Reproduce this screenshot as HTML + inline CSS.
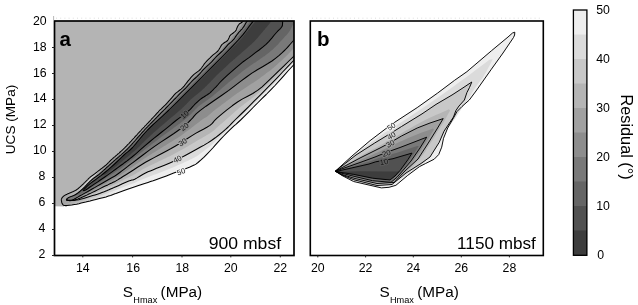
<!DOCTYPE html>
<html lang="en">
<head>
<meta charset="utf-8">
<title>Residual contour plots: UCS versus SHmax</title>
<style>
html,body{margin:0;padding:0;background:#fff;}
body{width:638px;height:305px;overflow:hidden;}
svg{display:block;}
</style>
</head>
<body>
<svg width="638" height="305" viewBox="0 0 638 305" font-family='"Liberation Sans", sans-serif' fill="#000">
<rect width="638" height="305" fill="#fff"/>
<defs>
<linearGradient id="g50" gradientUnits="userSpaceOnUse" x1="64" y1="0" x2="118" y2="0"><stop offset="0" stop-color="#a4a4a4"/><stop offset="0.5" stop-color="#d2d2d2"/><stop offset="1" stop-color="#eeeeee"/></linearGradient>
<linearGradient id="g45" gradientUnits="userSpaceOnUse" x1="64" y1="0" x2="118" y2="0"><stop offset="0" stop-color="#9e9e9e"/><stop offset="0.5" stop-color="#c4c4c4"/><stop offset="1" stop-color="#dbdbdb"/></linearGradient>
<clipPath id="cl"><rect x="54" y="21" width="240" height="234.5"/></clipPath>
<clipPath id="cr"><rect x="310.3" y="21" width="233" height="234.5"/></clipPath>
</defs>
<g clip-path="url(#cl)">
<path d="M54 16 L264 16 L267 -9 L266.5 -8.4 L265.9 -7.6 L265.1 -6.6 L264.2 -5.6 L263.3 -4.5 L262.4 -3.4 L261.3 -2.1 L260.3 -0.8 L259.2 0.5 L258 1.9 L256.8 3.4 L255.7 4.8 L254.5 6.3 L253.3 7.8 L252 9.3 L250.8 10.7 L249.5 12 L248.2 13.3 L247 14.6 L245.9 15.9 L245 17.3 L244.3 18.8 L243.6 20.2 L242.8 21.4 L241.9 22.3 L240.9 23 L239.9 23.5 L239.1 24.2 L238.5 25 L238 25.8 L237.6 26.6 L237.2 27.4 L236.8 28.3 L236.5 29.1 L236.2 29.9 L235.8 30.7 L235.2 31.3 L234.6 31.8 L233.9 32.4 L233.2 33 L232.5 33.5 L231.7 34.1 L230.9 34.7 L230.1 35.6 L229.5 36.6 L229 37.9 L228.4 39.3 L227.6 40.5 L226.4 41.5 L225 42.3 L223.5 43.3 L222.1 44.4 L221 45.9 L220.1 47.6 L219.1 49.3 L217.9 51 L216.4 52.4 L214.8 53.6 L213.1 54.9 L211.5 56.3 L210 57.8 L208.4 59.3 L206.9 60.8 L205.5 62.5 L204.1 64.2 L202.9 66 L201.6 67.8 L200.3 69.5 L198.7 70.9 L197 72.1 L195.3 73.4 L193.7 74.7 L192.2 76.2 L190.8 77.7 L189.5 79.3 L188.1 80.9 L186.8 82.6 L185.5 84.3 L184.1 86.1 L182.7 87.7 L181.1 89.1 L179.3 90.5 L177.6 91.8 L175.9 93.1 L174.4 94.7 L173 96.3 L171.7 97.9 L170.4 99.4 L169 100.9 L167.7 102.4 L166.4 103.8 L165.1 105.2 L163.8 106.4 L162.5 107.6 L161.3 108.8 L160.1 109.9 L159 111 L158.1 112.1 L157.1 113.2 L156.2 114.2 L155.3 115.2 L154.4 116.1 L153.5 117 L152.7 117.9 L151.9 118.7 L151.2 119.5 L150.4 120.3 L149.7 121.1 L149 121.8 L148.3 122.6 L147.6 123.3 L146.9 124 L146.2 124.8 L145.5 125.5 L144.8 126.2 L144.2 127 L143.5 127.7 L142.7 128.5 L142 129.2 L141.3 130 L140.6 130.8 L139.8 131.6 L139.1 132.4 L138.3 133.2 L137.6 134 L136.9 134.8 L136.1 135.6 L135.4 136.4 L134.7 137.2 L134 138 L133.2 138.8 L132.5 139.5 L131.8 140.3 L131.1 141.1 L130.4 141.8 L129.7 142.6 L129.1 143.3 L128.4 144 L127.7 144.7 L127 145.4 L126.4 146.1 L125.8 146.7 L125.1 147.4 L124.5 148 L123.9 148.6 L123.3 149.2 L122.6 149.8 L122 150.4 L121.4 150.9 L120.8 151.5 L120.2 152 L119.6 152.5 L119.1 153.1 L118.5 153.6 L117.9 154 L117.3 154.5 L116.8 155 L116.3 155.5 L115.7 155.9 L115.2 156.4 L114.7 156.8 L114.2 157.2 L113.7 157.6 L113.3 158 L112.8 158.4 L112.4 158.8 L112 159.1 L111.6 159.5 L111.2 159.8 L110.9 160.2 L110.6 160.5 L110.2 160.8 L110 161.1 L109.7 161.3 L109.4 161.6 L109.2 161.8 L109 162 L108.8 162.3 L108.6 162.5 L108.4 162.7 L108.2 162.9 L108 163.1 L107.8 163.3 L107.6 163.4 L107.4 163.6 L107.3 163.8 L107.1 164 L106.9 164.2 L106.7 164.4 L106.5 164.6 L106.2 164.8 L106 165 L105.8 165.2 L105.5 165.4 L105.3 165.6 L105 165.8 L104.8 166 L104.5 166.2 L104.3 166.4 L104 166.6 L103.8 166.8 L103.5 167 L103.2 167.2 L103 167.4 L102.7 167.6 L102.5 167.8 L102.2 168 L102 168.2 L101.7 168.4 L101.5 168.6 L101.2 168.8 L101 168.9 L100.7 169.1 L100.5 169.3 L100.2 169.5 L100 169.7 L99.8 169.9 L99.5 170.1 L99.3 170.3 L99 170.5 L98.8 170.6 L98.6 170.8 L98.3 171 L98.1 171.2 L97.9 171.4 L97.6 171.6 L97.4 171.8 L97.2 171.9 L96.9 172.1 L96.7 172.3 L96.5 172.5 L96.2 172.7 L96 172.8 L95.8 173 L95.6 173.2 L95.4 173.3 L95.1 173.5 L94.9 173.7 L94.7 173.8 L94.5 174 L94.3 174.2 L94.1 174.3 L93.9 174.5 L93.7 174.6 L93.5 174.7 L93.3 174.9 L93.1 175 L92.9 175.2 L92.7 175.3 L92.5 175.4 L92.3 175.6 L92.1 175.7 L92 175.8 L91.8 175.9 L91.6 176.1 L91.4 176.2 L91.2 176.3 L91 176.5 L90.9 176.6 L90.7 176.7 L90.5 176.9 L90.3 177 L90.2 177.2 L90 177.3 L89.8 177.4 L89.7 177.6 L89.5 177.7 L89.4 177.9 L89.2 178 L89.1 178.1 L88.9 178.3 L88.8 178.4 L88.7 178.6 L88.5 178.7 L88.4 178.8 L88.3 179 L88.1 179.1 L88 179.3 L87.8 179.4 L87.7 179.6 L87.5 179.7 L87.4 179.9 L87.2 180.1 L87.1 180.2 L86.9 180.4 L86.7 180.6 L86.5 180.8 L86.3 181 L86.1 181.2 L85.9 181.4 L85.6 181.7 L85.4 181.9 L85.1 182.1 L84.9 182.4 L84.6 182.7 L84.3 182.9 L84 183.2 L83.8 183.5 L83.5 183.8 L83.2 184 L82.9 184.3 L82.6 184.6 L82.3 184.8 L82 185.1 L81.8 185.4 L81.5 185.6 L81.2 185.9 L81 186.1 L80.7 186.4 L80.5 186.6 L80.2 186.8 L80 187 L79.8 187.2 L79.6 187.4 L79.4 187.5 L79.2 187.7 L79 187.9 L78.8 188 L78.6 188.2 L78.4 188.3 L78.3 188.5 L78.1 188.6 L77.9 188.8 L77.8 188.9 L77.6 189 L77.4 189.1 L77.3 189.3 L77.1 189.4 L76.9 189.5 L76.8 189.6 L76.6 189.7 L76.4 189.8 L76.3 190 L76.1 190.1 L75.9 190.2 L75.7 190.3 L75.5 190.4 L75.3 190.5 L75.1 190.6 L74.9 190.7 L74.7 190.8 L74.5 190.9 L74.3 191 L74.1 191.1 L73.9 191.2 L73.7 191.3 L73.5 191.4 L73.3 191.5 L73.1 191.6 L72.9 191.7 L72.6 191.8 L72.4 191.9 L72.2 191.9 L72 192 L71.8 192.1 L71.6 192.2 L71.4 192.3 L71.1 192.4 L70.9 192.5 L70.7 192.6 L70.5 192.7 L70.2 192.8 L70 192.9 L69.8 193 L69.5 193.1 L69.3 193.2 L69.1 193.3 L68.8 193.4 L68.6 193.5 L68.3 193.6 L68.1 193.7 L67.8 193.8 L67.6 193.9 L67.3 194.1 L67.1 194.2 L66.9 194.3 L66.6 194.4 L66.4 194.5 L66.2 194.6 L66 194.7 L65.8 194.8 L65.6 194.9 L65.4 195 L65.2 195.1 L65 195.2 L64.9 195.3 L64.7 195.4 L64.5 195.5 L64.4 195.6 L64.2 195.7 L64.1 195.8 L64 195.9 L63.8 196 L63.7 196.1 L63.6 196.2 L63.5 196.3 L63.4 196.4 L63.2 196.5 L63.1 196.6 L63 196.7 L62.9 196.8 L62.8 196.9 L62.7 197 L62.6 197.1 L62.6 197.2 L62.5 197.3 L62.4 197.4 L62.3 197.5 L62.2 197.6 L62.1 197.7 L62.1 197.8 L62 197.9 L62 198 L61.9 198.1 L61.8 198.2 L61.8 198.3 L61.7 198.4 L61.7 198.5 L61.7 198.6 L61.6 198.7 L61.6 198.9 L61.5 198.9 L61.5 199 L61.5 199.1 L61.5 199.2 L61.4 199.3 L61.4 199.4 L61.4 199.5 L61.4 199.5 L61.3 199.6 L61.3 199.7 L61.3 199.7 L62.2 203.6 L65 205.6 L64 206.4 L54 206.3Z" fill="#b4b4b4"/>
<path d="M61.3 199.7 L61.3 199.7 L61.3 199.6 L61.4 199.5 L61.4 199.5 L61.4 199.4 L61.4 199.3 L61.5 199.2 L61.5 199.1 L61.5 199 L61.5 198.9 L61.6 198.9 L61.6 198.7 L61.7 198.6 L61.7 198.5 L61.7 198.4 L61.8 198.3 L61.8 198.2 L61.9 198.1 L62 198 L62 197.9 L62.1 197.8 L62.1 197.7 L62.2 197.6 L62.3 197.5 L62.4 197.4 L62.5 197.3 L62.6 197.2 L62.6 197.1 L62.7 197 L62.8 196.9 L62.9 196.8 L63 196.7 L63.1 196.6 L63.2 196.5 L63.4 196.4 L63.5 196.3 L63.6 196.2 L63.7 196.1 L63.8 196 L64 195.9 L64.1 195.8 L64.2 195.7 L64.4 195.6 L64.5 195.5 L64.7 195.4 L64.9 195.3 L65 195.2 L65.2 195.1 L65.4 195 L65.6 194.9 L65.8 194.8 L66 194.7 L66.2 194.6 L66.4 194.5 L66.6 194.4 L66.9 194.3 L67.1 194.2 L67.3 194.1 L67.6 193.9 L67.8 193.8 L68.1 193.7 L68.3 193.6 L68.6 193.5 L68.8 193.4 L69.1 193.3 L69.3 193.2 L69.5 193.1 L69.8 193 L70 192.9 L70.2 192.8 L70.5 192.7 L70.7 192.6 L70.9 192.5 L71.1 192.4 L71.4 192.3 L71.6 192.2 L71.8 192.1 L72 192 L72.2 191.9 L72.4 191.9 L72.6 191.8 L72.9 191.7 L73.1 191.6 L73.3 191.5 L73.5 191.4 L73.7 191.3 L73.9 191.2 L74.1 191.1 L74.3 191 L74.5 190.9 L74.7 190.8 L74.9 190.7 L75.1 190.6 L75.3 190.5 L75.5 190.4 L75.7 190.3 L75.9 190.2 L76.1 190.1 L76.3 190 L76.4 189.8 L76.6 189.7 L76.8 189.6 L76.9 189.5 L77.1 189.4 L77.3 189.3 L77.4 189.1 L77.6 189 L77.8 188.9 L77.9 188.8 L78.1 188.6 L78.3 188.5 L78.4 188.3 L78.6 188.2 L78.8 188 L79 187.9 L79.2 187.7 L79.4 187.5 L79.6 187.4 L79.8 187.2 L80 187 L80.2 186.8 L80.5 186.6 L80.7 186.4 L81 186.1 L81.2 185.9 L81.5 185.6 L81.8 185.4 L82 185.1 L82.3 184.8 L82.6 184.6 L82.9 184.3 L83.2 184 L83.5 183.8 L83.8 183.5 L84 183.2 L84.3 182.9 L84.6 182.7 L84.9 182.4 L85.1 182.1 L85.4 181.9 L85.6 181.7 L85.9 181.4 L86.1 181.2 L86.3 181 L86.5 180.8 L86.7 180.6 L86.9 180.4 L87.1 180.2 L87.2 180.1 L87.4 179.9 L87.5 179.7 L87.7 179.6 L87.8 179.4 L88 179.3 L88.1 179.1 L88.3 179 L88.4 178.8 L88.5 178.7 L88.7 178.6 L88.8 178.4 L88.9 178.3 L89.1 178.1 L89.2 178 L89.4 177.9 L89.5 177.7 L89.7 177.6 L89.8 177.4 L90 177.3 L90.2 177.2 L90.3 177 L90.5 176.9 L90.7 176.7 L90.9 176.6 L91 176.5 L91.2 176.3 L91.4 176.2 L91.6 176.1 L91.8 175.9 L92 175.8 L92.1 175.7 L92.3 175.6 L92.5 175.4 L92.7 175.3 L92.9 175.2 L93.1 175 L93.3 174.9 L93.5 174.7 L93.7 174.6 L93.9 174.5 L94.1 174.3 L94.3 174.2 L94.5 174 L94.7 173.8 L94.9 173.7 L95.1 173.5 L95.4 173.3 L95.6 173.2 L95.8 173 L96 172.8 L96.2 172.7 L96.5 172.5 L96.7 172.3 L96.9 172.1 L97.2 171.9 L97.4 171.8 L97.6 171.6 L97.9 171.4 L98.1 171.2 L98.3 171 L98.6 170.8 L98.8 170.6 L99 170.5 L99.3 170.3 L99.5 170.1 L99.8 169.9 L100 169.7 L100.2 169.5 L100.5 169.3 L100.7 169.1 L101 168.9 L101.2 168.8 L101.5 168.6 L101.7 168.4 L102 168.2 L102.2 168 L102.5 167.8 L102.7 167.6 L103 167.4 L103.2 167.2 L103.5 167 L103.8 166.8 L104 166.6 L104.3 166.4 L104.5 166.2 L104.8 166 L105 165.8 L105.3 165.6 L105.5 165.4 L105.8 165.2 L106 165 L106.2 164.8 L106.5 164.6 L106.7 164.4 L106.9 164.2 L107.1 164 L107.3 163.8 L107.4 163.6 L107.6 163.4 L107.8 163.3 L108 163.1 L108.2 162.9 L108.4 162.7 L108.6 162.5 L108.8 162.3 L109 162 L109.2 161.8 L109.4 161.6 L109.7 161.3 L110 161.1 L110.2 160.8 L110.6 160.5 L110.9 160.2 L111.2 159.8 L111.6 159.5 L112 159.1 L112.4 158.8 L112.8 158.4 L113.3 158 L113.7 157.6 L114.2 157.2 L114.7 156.8 L115.2 156.4 L115.7 155.9 L116.3 155.5 L116.8 155 L117.3 154.5 L117.9 154 L118.5 153.6 L119.1 153.1 L119.6 152.5 L120.2 152 L120.8 151.5 L121.4 150.9 L122 150.4 L122.6 149.8 L123.3 149.2 L123.9 148.6 L124.5 148 L125.1 147.4 L125.8 146.7 L126.4 146.1 L127 145.4 L127.7 144.7 L128.4 144 L129.1 143.3 L129.7 142.6 L130.4 141.8 L131.1 141.1 L131.8 140.3 L132.5 139.5 L133.2 138.8 L134 138 L134.7 137.2 L135.4 136.4 L136.1 135.6 L136.9 134.8 L137.6 134 L138.3 133.2 L139.1 132.4 L139.8 131.6 L140.6 130.8 L141.3 130 L142 129.2 L142.7 128.5 L143.5 127.7 L144.2 127 L144.8 126.2 L145.5 125.5 L146.2 124.8 L146.9 124 L147.6 123.3 L148.3 122.6 L149 121.8 L149.7 121.1 L150.4 120.3 L151.2 119.5 L151.9 118.7 L152.7 117.9 L153.5 117 L154.4 116.1 L155.3 115.2 L156.2 114.2 L157.1 113.2 L158.1 112.1 L159 111 L160.1 109.9 L161.3 108.8 L162.5 107.6 L163.8 106.4 L165.1 105.2 L166.4 103.8 L167.7 102.4 L169 100.9 L170.4 99.4 L171.7 97.9 L173 96.3 L174.4 94.7 L175.9 93.1 L177.6 91.8 L179.3 90.5 L181.1 89.1 L182.7 87.7 L184.1 86.1 L185.5 84.3 L186.8 82.6 L188.1 80.9 L189.5 79.3 L190.8 77.7 L192.2 76.2 L193.7 74.7 L195.3 73.4 L197 72.1 L198.7 70.9 L200.3 69.5 L201.6 67.8 L202.9 66 L204.1 64.2 L205.5 62.5 L206.9 60.8 L208.4 59.3 L210 57.8 L211.5 56.3 L213.1 54.9 L214.8 53.6 L216.4 52.4 L217.9 51 L219.1 49.3 L220.1 47.6 L221 45.9 L222.1 44.4 L223.5 43.3 L225 42.3 L226.4 41.5 L227.6 40.5 L228.4 39.3 L229 37.9 L229.5 36.6 L230.1 35.6 L230.9 34.7 L231.7 34.1 L232.5 33.5 L233.2 33 L233.9 32.4 L234.6 31.8 L235.2 31.3 L235.8 30.7 L236.2 29.9 L236.5 29.1 L236.8 28.3 L237.2 27.4 L237.6 26.6 L238 25.8 L238.5 25 L239.1 24.2 L239.9 23.5 L240.9 23 L241.9 22.3 L242.8 21.4 L243.6 20.2 L244.3 18.8 L245 17.3 L245.9 15.9 L247 14.6 L248.2 13.3 L249.5 12 L250.8 10.7 L252 9.3 L253.3 7.8 L254.5 6.3 L255.7 4.8 L256.8 3.4 L258 1.9 L259.2 0.5 L260.3 -0.8 L261.3 -2.1 L262.4 -3.4 L263.3 -4.5 L264.2 -5.6 L265.1 -6.6 L265.9 -7.6 L266.5 -8.4 L267 -9 L330 -20 L324 34.5 L318.4 40.1 L310.2 48.2 L301.4 56.9 L294 64.5 L288.4 70.5 L283.7 75.8 L279.4 80.7 L275 85.5 L270.5 90.1 L266.2 94.5 L261.9 98.7 L257.6 103 L253.1 107.5 L248.6 112.1 L244.3 116.4 L240.6 120 L237.9 122.5 L235.9 124.3 L234 125.9 L231.9 127.9 L229.3 130.4 L226.5 133.1 L223.7 136 L220.9 138.9 L218.2 141.9 L215.5 144.9 L212.8 148 L210 151 L207 154.1 L203.8 157.3 L200.7 160.2 L198 162.5 L195.9 164.1 L194.2 165.1 L192.6 165.8 L191 166.5 L189.4 167.2 L187.9 167.8 L186.2 168.4 L184 169.2 L181 170.3 L177.4 171.7 L173.7 173.1 L170 174.5 L166.4 175.9 L162.8 177.3 L159.3 178.6 L156 179.8 L153.1 180.8 L150.5 181.6 L148 182.4 L145.5 183.2 L143.1 184 L140.9 184.7 L138.5 185.5 L135.7 186.5 L132 187.8 L127.6 189.3 L123.4 190.8 L120 192 L117.9 192.7 L116.7 193.2 L115.7 193.6 L114.3 194.1 L112.5 194.7 L110.6 195.4 L108.5 196.1 L106 196.9 L102.9 197.7 L99.4 198.6 L95.9 199.5 L92.7 200.3 L90.1 201 L87.8 201.5 L85.7 202.1 L83.5 202.6 L81.2 203.1 L78.9 203.7 L76.6 204.2 L74.3 204.6 L71.8 205 L69.3 205.3 L66.9 205.6 L65 205.6 L63.8 205.4 L63.1 204.9 L62.6 204.3 L62.2 203.6 L61.8 202.7 L61.6 201.5 L61.4 200.4 L61.3 199.7Z" fill="url(#g50)"/>
<path d="M66.1 199.7 L66.8 199.2 L67.8 198.4 L68.9 197.6 L70.1 196.9 L71.2 196.4 L72.3 196 L73.5 195.6 L74.6 195.1 L75.7 194.5 L76.7 193.8 L77.7 193.1 L78.7 192.3 L79.6 191.6 L80.6 190.8 L81.5 190 L82.4 189.2 L83.2 188.3 L84 187.4 L84.8 186.6 L85.6 185.7 L86.3 184.8 L87.1 183.9 L87.8 183.1 L88.6 182.2 L89.3 181.4 L90 180.5 L90.8 179.7 L91.5 178.9 L92.3 178.2 L93.1 177.4 L93.9 176.7 L94.7 175.9 L95.5 175.2 L96.3 174.5 L97 173.7 L97.8 173 L98.6 172.2 L99.4 171.4 L100.1 170.6 L100.9 169.9 L101.7 169.1 L102.6 168.4 L103.4 167.6 L104.2 166.9 L105 166.1 L105.9 165.3 L106.7 164.5 L107.5 163.7 L108.4 162.8 L109.2 162 L110 161.1 L110.8 160.2 L111.7 159.4 L112.7 158.6 L113.6 157.8 L114.5 156.9 L115.5 156.1 L116.4 155.3 L117.3 154.5 L118.3 153.7 L119.2 152.9 L120.1 152.1 L121 151.3 L121.9 150.5 L122.8 149.6 L123.7 148.7 L124.6 147.9 L125.5 147 L126.3 146.1 L127.2 145.2 L128 144.3 L128.9 143.5 L129.7 142.6 L130.6 141.6 L131.4 140.7 L132.2 139.8 L133.1 138.9 L133.9 138 L134.7 137.1 L135.6 136.2 L136.4 135.3 L137.2 134.4 L138.1 133.5 L138.9 132.6 L139.7 131.7 L140.6 130.8 L141.4 129.9 L142.3 129 L143.1 128.1 L144 127.2 L144.8 126.3 L145.6 125.4 L146.5 124.5 L147.3 123.6 L148.2 122.7 L149 121.8 L149.9 120.9 L150.7 120 L151.6 119.1 L152.4 118.2 L153.3 117.3 L154.1 116.4 L155 115.5 L155.8 114.6 L156.6 113.7 L157.5 112.8 L158.3 111.9 L159.2 111 L160 110.1 L160.9 109.2 L161.8 108.4 L162.7 107.5 L163.5 106.6 L164.4 105.8 L165.3 104.9 L166.1 104 L167 103.1 L167.8 102.2 L168.6 101.3 L169.5 100.4 L170.3 99.5 L171.1 98.5 L171.9 97.6 L172.7 96.7 L173.6 95.8 L174.4 94.8 L175.2 93.9 L176 93 L177 92.2 L177.9 91.5 L178.9 90.7 L179.9 90 L180.8 89.2 L181.8 88.4 L182.7 87.5 L183.5 86.7 L184.3 85.7 L185.1 84.8 L185.8 83.8 L186.6 82.8 L187.4 81.8 L188.2 80.9 L189 80 L189.8 79 L190.6 78.1 L191.4 77.2 L192.2 76.3 L193.1 75.4 L194 74.6 L195 73.8 L195.9 73 L196.9 72.2 L197.8 71.4 L198.8 70.7 L199.7 69.9 L200.6 69 L201.4 68.1 L202.1 67.1 L202.8 66.1 L203.5 65.1 L204.3 64.1 L205.1 63.1 L205.8 62.2 L206.7 61.2 L207.5 60.3 L208.3 59.5 L209.2 58.6 L210.1 57.7 L211 56.9 L211.9 56 L212.8 55.2 L213.8 54.4 L214.7 53.6 L215.7 52.9 L216.7 52.1 L217.5 51.2 L218.3 50.3 L219 49.3 L219.6 48.2 L220.3 47.2 L221.1 46.2 L221.8 45.3 L222.6 44.3 L223.5 43.5 L224.4 42.7 L225.5 42.1 L226.5 41.4 L227.4 40.6 L228.1 39.6 L228.6 38.4 L229.1 37.3 L229.8 36.2 L230.6 35.3 L231.5 34.5 L232.4 33.7 L233.3 32.9 L234.1 32 L234.9 31.1 L235.7 30.2 L236.4 29.2 L237 28.1 L237.5 27 L238 25.8 L238.7 24.8 L239.6 24 L240.6 23.3 L241.6 22.5 L242.5 21.7 L243.2 20.7 L243.8 19.7 L244.3 18.6 L245 17.5 L245.7 16.5 L246.4 15.6 L247.2 14.6 L248 13.7 L248.8 12.8 L249.7 11.9 L250.5 11 L251.4 10.1 L252.2 9.1 L252.9 8.2 L253.7 7.2 L254.5 6.2 L255.3 5.3 L256 4.3 L256.8 3.4 L257.6 2.4 L258.4 1.5 L259.2 0.5 L260 -0.4 L260.7 -1.4 L261.5 -2.3 L262.3 -3.3 L263.1 -4.2 L263.9 -5.2 L264.7 -6.2 L265.6 -7.3 L266.4 -8.3 L267 -9 L330 -20 L324 32.2 L323.3 32.9 L322.3 33.9 L321.2 35 L320.2 36 L319.3 37 L318.3 37.9 L317.4 38.9 L316.4 39.8 L315.5 40.8 L314.5 41.7 L313.6 42.7 L312.6 43.6 L311.7 44.6 L310.7 45.5 L309.8 46.5 L308.8 47.4 L307.9 48.4 L306.9 49.3 L306 50.3 L305 51.2 L304.1 52.2 L303.1 53.1 L302.2 54.1 L301.2 55 L300.3 56 L299.3 56.9 L298.4 57.9 L297.4 58.8 L296.5 59.8 L295.5 60.7 L294.6 61.7 L293.7 62.6 L292.7 63.6 L291.8 64.6 L290.9 65.6 L290 66.6 L289.1 67.5 L288.2 68.5 L287.3 69.5 L286.4 70.5 L285.5 71.5 L284.6 72.5 L283.6 73.5 L282.7 74.4 L281.8 75.4 L280.9 76.4 L280 77.4 L279.1 78.4 L278.2 79.4 L277.3 80.3 L276.4 81.3 L275.4 82.3 L274.5 83.3 L273.6 84.2 L272.6 85.2 L271.7 86.2 L270.8 87.1 L269.8 88.1 L268.9 89 L267.9 90 L267 90.9 L266 91.9 L265.1 92.8 L264.1 93.8 L263.2 94.7 L262.2 95.7 L261.3 96.6 L260.3 97.6 L259.4 98.5 L258.5 99.5 L257.5 100.4 L256.6 101.4 L255.6 102.3 L254.7 103.3 L253.7 104.2 L252.8 105.2 L251.8 106.1 L250.9 107.1 L249.9 108 L249 109 L248 109.9 L247.1 110.9 L246.1 111.8 L245.2 112.8 L244.2 113.7 L243.3 114.6 L242.3 115.6 L241.3 116.5 L240.4 117.4 L239.4 118.4 L238.4 119.3 L237.4 120.2 L236.5 121.1 L235.5 122 L234.5 122.9 L233.5 123.9 L232.6 124.8 L231.6 125.8 L230.7 126.7 L229.7 127.7 L228.8 128.6 L227.8 129.6 L226.9 130.5 L225.9 131.5 L225 132.4 L224 133.3 L223 134.2 L222.1 135.2 L221.1 136.1 L220.1 137 L219.1 137.9 L218.2 138.8 L217.2 139.7 L216.2 140.6 L215.2 141.6 L214.3 142.5 L213.3 143.4 L212.3 144.3 L211.3 145.2 L210.3 146.1 L209.3 146.9 L208.2 147.7 L207.1 148.5 L206.1 149.3 L205 150.1 L204 150.9 L202.9 151.7 L201.8 152.5 L200.8 153.3 L199.7 154.1 L198.6 154.9 L197.5 155.7 L196.4 156.4 L195.2 157.1 L194.1 157.7 L192.9 158.3 L191.7 158.9 L190.5 159.5 L189.3 160.1 L188.1 160.7 L186.8 161.2 L185.6 161.8 L184.4 162.3 L183.2 162.9 L182 163.4 L180.7 164 L179.5 164.5 L178.3 165.1 L177.1 165.6 L175.9 166.2 L174.6 166.7 L173.4 167.3 L172.2 167.8 L170.9 168.3 L169.7 168.8 L168.4 169.3 L167.2 169.7 L165.9 170.2 L164.7 170.7 L163.4 171.2 L162.2 171.7 L160.9 172.2 L159.7 172.7 L158.4 173.2 L157.2 173.7 L155.9 174.2 L154.7 174.6 L153.4 175.1 L152.2 175.6 L150.9 176 L149.7 176.5 L148.4 177 L147.1 177.4 L145.9 177.9 L144.6 178.4 L143.4 178.9 L142.2 179.4 L140.9 179.9 L139.7 180.5 L138.5 181.1 L137.3 181.6 L136.1 182.2 L134.9 182.7 L133.7 183.3 L132.4 183.7 L131.1 184.2 L129.9 184.6 L128.6 185.1 L127.4 185.5 L126.1 186 L124.8 186.4 L123.6 186.9 L122.3 187.4 L121.1 187.9 L119.9 188.4 L118.6 188.9 L117.4 189.4 L116.1 189.9 L114.9 190.4 L113.6 190.9 L112.4 191.4 L111.1 191.8 L109.9 192.3 L108.6 192.8 L107.3 193.2 L106.1 193.7 L104.8 194.1 L103.5 194.5 L102.3 194.9 L101 195.3 L99.7 195.7 L98.4 196.1 L97.2 196.5 L95.9 196.9 L94.6 197.3 L93.3 197.7 L92 198.1 L90.7 198.4 L89.4 198.8 L88.1 199.1 L86.8 199.5 L85.5 199.8 L84.2 200.1 L83 200.5 L81.7 200.8 L80.4 201.2 L79.1 201.5 L77.8 201.8 L76.4 202 L75.1 202.3 L73.8 202.5 L72.5 202.6 L71.1 202.7 L69.8 202.8 L68.5 202.7 L67.3 202.5 L66.2 201.9 L65.2 201.1 L64.3 200.3 L63.7 199.7Z" fill="url(#g45)"/>
<path d="M66.1 199.7 L66.8 199.2 L67.8 198.4 L68.9 197.6 L70.1 196.9 L71.2 196.4 L72.3 196 L73.5 195.6 L74.6 195.1 L75.7 194.5 L76.7 193.8 L77.7 193.1 L78.7 192.3 L79.6 191.6 L80.6 190.8 L81.5 190 L82.4 189.2 L83.2 188.3 L84 187.4 L84.8 186.6 L85.6 185.7 L86.3 184.8 L87.1 183.9 L87.8 183.1 L88.6 182.2 L89.3 181.4 L90 180.5 L90.8 179.7 L91.5 178.9 L92.3 178.2 L93.1 177.4 L93.9 176.7 L94.7 175.9 L95.5 175.2 L96.3 174.5 L97 173.7 L97.8 173 L98.6 172.2 L99.4 171.4 L100.1 170.6 L100.9 169.9 L101.7 169.1 L102.6 168.4 L103.4 167.6 L104.2 166.9 L105 166.1 L105.9 165.3 L106.7 164.5 L107.5 163.7 L108.4 162.8 L109.2 162 L110 161.1 L110.8 160.2 L111.7 159.4 L112.7 158.6 L113.6 157.8 L114.5 156.9 L115.5 156.1 L116.4 155.3 L117.3 154.5 L118.3 153.7 L119.2 152.9 L120.1 152.1 L121 151.3 L121.9 150.5 L122.8 149.6 L123.7 148.7 L124.6 147.9 L125.5 147 L126.3 146.1 L127.2 145.2 L128 144.3 L128.9 143.5 L129.7 142.6 L130.6 141.6 L131.4 140.7 L132.2 139.8 L133.1 138.9 L133.9 138 L134.7 137.1 L135.6 136.2 L136.4 135.3 L137.2 134.4 L138.1 133.5 L138.9 132.6 L139.7 131.7 L140.6 130.8 L141.4 129.9 L142.3 129 L143.1 128.1 L144 127.2 L144.8 126.3 L145.6 125.4 L146.5 124.5 L147.3 123.6 L148.2 122.7 L149 121.8 L149.9 120.9 L150.7 120 L151.6 119.1 L152.4 118.2 L153.3 117.3 L154.1 116.4 L155 115.5 L155.8 114.6 L156.6 113.7 L157.5 112.8 L158.3 111.9 L159.2 111 L160 110.1 L160.9 109.2 L161.8 108.4 L162.7 107.5 L163.5 106.6 L164.4 105.8 L165.3 104.9 L166.1 104 L167 103.1 L167.8 102.2 L168.6 101.3 L169.5 100.4 L170.3 99.5 L171.1 98.5 L171.9 97.6 L172.7 96.7 L173.6 95.8 L174.4 94.8 L175.2 93.9 L176 93 L177 92.2 L177.9 91.5 L178.9 90.7 L179.9 90 L180.8 89.2 L181.8 88.4 L182.7 87.5 L183.5 86.7 L184.3 85.7 L185.1 84.8 L185.8 83.8 L186.6 82.8 L187.4 81.8 L188.2 80.9 L189 80 L189.8 79 L190.6 78.1 L191.4 77.2 L192.2 76.3 L193.1 75.4 L194 74.6 L195 73.8 L195.9 73 L196.9 72.2 L197.8 71.4 L198.8 70.7 L199.7 69.9 L200.6 69 L201.4 68.1 L202.1 67.1 L202.8 66.1 L203.5 65.1 L204.3 64.1 L205.1 63.1 L205.8 62.2 L206.7 61.2 L207.5 60.3 L208.3 59.5 L209.2 58.6 L210.1 57.7 L211 56.9 L211.9 56 L212.8 55.2 L213.8 54.4 L214.7 53.6 L215.7 52.9 L216.7 52.1 L217.5 51.2 L218.3 50.3 L219 49.3 L219.6 48.2 L220.3 47.2 L221.1 46.2 L221.8 45.3 L222.6 44.3 L223.5 43.5 L224.4 42.7 L225.5 42.1 L226.5 41.4 L227.4 40.6 L228.1 39.6 L228.6 38.4 L229.1 37.3 L229.8 36.2 L230.6 35.3 L231.5 34.5 L232.4 33.7 L233.3 32.9 L234.1 32 L234.9 31.1 L235.7 30.2 L236.4 29.2 L237 28.1 L237.5 27 L238 25.8 L238.7 24.8 L239.6 24 L240.6 23.3 L241.6 22.5 L242.5 21.7 L243.2 20.7 L243.8 19.7 L244.3 18.6 L245 17.5 L245.7 16.5 L246.4 15.6 L247.2 14.6 L248 13.7 L248.8 12.8 L249.7 11.9 L250.5 11 L251.4 10.1 L252.2 9.1 L252.9 8.2 L253.7 7.2 L254.5 6.2 L255.3 5.3 L256 4.3 L256.8 3.4 L257.6 2.4 L258.4 1.5 L259.2 0.5 L260 -0.4 L260.7 -1.4 L261.5 -2.3 L262.3 -3.3 L263.1 -4.2 L263.9 -5.2 L264.7 -6.2 L265.6 -7.3 L266.4 -8.3 L267 -9 L330 -20 L324 30 L318.4 35.5 L310.4 43.5 L301.6 52.3 L294 60 L288 66.3 L282.6 72 L277.4 77.6 L272 83.2 L266.1 89.2 L260 95.3 L254.1 101.2 L249 106.3 L244.8 110.5 L241.2 114 L238 117.1 L235 120 L232.4 122.6 L230.3 124.9 L228.2 127 L225.6 129.4 L222.4 132.1 L218.9 135 L215.3 137.8 L211.5 140.5 L207.8 142.9 L204.1 145.1 L200.1 147.3 L195.7 149.7 L190.7 152.5 L185.2 155.5 L179.6 158.4 L174.3 161 L169.3 163.2 L164.5 165.2 L160 167 L156 168.6 L152.8 169.9 L150.3 170.9 L148 171.8 L145.5 173 L142.7 174.5 L139.8 176.3 L137.1 177.9 L134.7 179.2 L133 179.9 L131.9 180.1 L130.6 180.4 L128.8 181 L125.9 182.2 L122.4 183.8 L118.9 185.4 L116 186.7 L114 187.6 L112.5 188.2 L111.2 188.7 L110 189.2 L109 189.7 L108.2 190.1 L107.3 190.5 L106 191 L104.2 191.7 L102 192.5 L99.6 193.4 L97.3 194.2 L95 194.9 L92.7 195.6 L90.4 196.3 L88.1 197 L85.8 197.7 L83.5 198.5 L81.2 199.1 L78.9 199.7 L76.5 200.1 L74 200.4 L71.7 200.6 L69.8 200.7 L68.4 200.6 L67.4 200.3 L66.6 199.9 L66.1 199.7Z" fill="#c8c8c8"/>
<path d="M66.1 199.7 L66.8 199.2 L67.8 198.4 L68.9 197.6 L70.1 196.9 L71.2 196.4 L72.3 196 L73.5 195.6 L74.6 195.1 L75.7 194.5 L76.7 193.8 L77.7 193.1 L78.7 192.3 L79.6 191.6 L80.6 190.8 L81.5 190 L82.4 189.2 L83.2 188.3 L84 187.4 L84.8 186.6 L85.6 185.7 L86.3 184.8 L87.1 183.9 L87.8 183.1 L88.6 182.2 L89.3 181.4 L90 180.5 L90.8 179.7 L91.5 178.9 L92.3 178.2 L93.1 177.4 L93.9 176.7 L94.7 175.9 L95.5 175.2 L96.3 174.5 L97 173.7 L97.8 173 L98.6 172.2 L99.4 171.4 L100.1 170.6 L100.9 169.9 L101.7 169.1 L102.6 168.4 L103.4 167.6 L104.2 166.9 L105 166.1 L105.9 165.3 L106.7 164.5 L107.5 163.7 L108.4 162.8 L109.2 162 L110 161.1 L110.8 160.2 L111.7 159.4 L112.7 158.6 L113.6 157.8 L114.5 156.9 L115.5 156.1 L116.4 155.3 L117.3 154.5 L118.3 153.7 L119.2 152.9 L120.1 152.1 L121 151.3 L121.9 150.5 L122.8 149.6 L123.7 148.7 L124.6 147.9 L125.5 147 L126.3 146.1 L127.2 145.2 L128 144.3 L128.9 143.5 L129.7 142.6 L130.6 141.6 L131.4 140.7 L132.2 139.8 L133.1 138.9 L133.9 138 L134.7 137.1 L135.6 136.2 L136.4 135.3 L137.2 134.4 L138.1 133.5 L138.9 132.6 L139.7 131.7 L140.6 130.8 L141.4 129.9 L142.3 129 L143.1 128.1 L144 127.2 L144.8 126.3 L145.6 125.4 L146.5 124.5 L147.3 123.6 L148.2 122.7 L149 121.8 L149.9 120.9 L150.7 120 L151.6 119.1 L152.4 118.2 L153.3 117.3 L154.1 116.4 L155 115.5 L155.8 114.6 L156.6 113.7 L157.5 112.8 L158.3 111.9 L159.2 111 L160 110.1 L160.9 109.2 L161.8 108.4 L162.7 107.5 L163.5 106.6 L164.4 105.8 L165.3 104.9 L166.1 104 L167 103.1 L167.8 102.2 L168.6 101.3 L169.5 100.4 L170.3 99.5 L171.1 98.5 L171.9 97.6 L172.7 96.7 L173.6 95.8 L174.4 94.8 L175.2 93.9 L176 93 L177 92.2 L177.9 91.5 L178.9 90.7 L179.9 90 L180.8 89.2 L181.8 88.4 L182.7 87.5 L183.5 86.7 L184.3 85.7 L185.1 84.8 L185.8 83.8 L186.6 82.8 L187.4 81.8 L188.2 80.9 L189 80 L189.8 79 L190.6 78.1 L191.4 77.2 L192.2 76.3 L193.1 75.4 L194 74.6 L195 73.8 L195.9 73 L196.9 72.2 L197.8 71.4 L198.8 70.7 L199.7 69.9 L200.6 69 L201.4 68.1 L202.1 67.1 L202.8 66.1 L203.5 65.1 L204.3 64.1 L205.1 63.1 L205.8 62.2 L206.7 61.2 L207.5 60.3 L208.3 59.5 L209.2 58.6 L210.1 57.7 L211 56.9 L211.9 56 L212.8 55.2 L213.8 54.4 L214.7 53.6 L215.7 52.9 L216.7 52.1 L217.5 51.2 L218.3 50.3 L219 49.3 L219.6 48.2 L220.3 47.2 L221.1 46.2 L221.8 45.3 L222.6 44.3 L223.5 43.5 L224.4 42.7 L225.5 42.1 L226.5 41.4 L227.4 40.6 L228.1 39.6 L228.6 38.4 L229.1 37.3 L229.8 36.2 L230.6 35.3 L231.5 34.5 L232.4 33.7 L233.3 32.9 L234.1 32 L234.9 31.1 L235.7 30.2 L236.4 29.2 L237 28.1 L237.5 27 L238 25.8 L238.7 24.8 L239.6 24 L240.6 23.3 L241.6 22.5 L242.5 21.7 L243.2 20.7 L243.8 19.7 L244.3 18.6 L245 17.5 L245.7 16.5 L246.4 15.6 L247.2 14.6 L248 13.7 L248.8 12.8 L249.7 11.9 L250.5 11 L251.4 10.1 L252.2 9.1 L252.9 8.2 L253.7 7.2 L254.5 6.2 L255.3 5.3 L256 4.3 L256.8 3.4 L257.6 2.4 L258.4 1.5 L259.2 0.5 L260 -0.4 L260.7 -1.4 L261.5 -2.3 L262.3 -3.3 L263.1 -4.2 L263.9 -5.2 L264.7 -6.2 L265.6 -7.3 L266.4 -8.3 L267 -9 L330 -20 L324 28 L323.3 28.7 L322.4 29.6 L321.3 30.7 L320.3 31.7 L319.3 32.7 L318.4 33.6 L317.5 34.5 L316.6 35.4 L315.6 36.4 L314.7 37.3 L313.8 38.2 L312.8 39.2 L311.9 40.1 L311 41 L310 42 L309.1 42.9 L308.2 43.8 L307.2 44.8 L306.3 45.7 L305.4 46.6 L304.5 47.5 L303.5 48.5 L302.6 49.4 L301.7 50.3 L300.7 51.3 L299.8 52.2 L298.9 53.1 L297.9 54.1 L297 55 L296.1 55.9 L295.1 56.9 L294.2 57.8 L293.3 58.7 L292.4 59.7 L291.4 60.6 L290.5 61.5 L289.6 62.5 L288.7 63.4 L287.7 64.3 L286.8 65.3 L285.9 66.2 L285 67.2 L284 68.1 L283.1 69 L282.2 70 L281.3 70.9 L280.3 71.8 L279.4 72.8 L278.5 73.7 L277.6 74.7 L276.7 75.6 L275.7 76.5 L274.8 77.4 L273.9 78.4 L272.9 79.3 L272 80.2 L271 81.1 L270.1 82 L269.1 83 L268.2 83.9 L267.2 84.8 L266.3 85.7 L265.3 86.6 L264.4 87.5 L263.4 88.4 L262.5 89.3 L261.5 90.2 L260.6 91.1 L259.6 92 L258.6 92.9 L257.6 93.8 L256.6 94.6 L255.6 95.4 L254.6 96.2 L253.5 97 L252.5 97.8 L251.5 98.6 L250.4 99.4 L249.4 100.2 L248.4 101 L247.3 101.8 L246.3 102.6 L245.3 103.3 L244.2 104.1 L243.2 104.9 L242.1 105.7 L241.1 106.5 L240.1 107.3 L239.1 108.1 L238.1 109 L237.1 109.9 L236.1 110.7 L235.1 111.6 L234.1 112.5 L233.1 113.3 L232.1 114.2 L231.2 115.1 L230.2 116 L229.2 116.8 L228.2 117.7 L227.2 118.6 L226.2 119.4 L225.3 120.3 L224.3 121.2 L223.3 122 L222.3 122.9 L221.3 123.7 L220.3 124.6 L219.3 125.5 L218.3 126.3 L217.3 127.2 L216.4 128.1 L215.4 129 L214.4 129.9 L213.5 130.7 L212.4 131.6 L211.4 132.3 L210.3 133.1 L209.2 133.8 L208 134.5 L206.9 135.1 L205.8 135.8 L204.6 136.4 L203.5 137.1 L202.3 137.7 L201.2 138.4 L200 139 L198.9 139.7 L197.8 140.3 L196.6 141 L195.5 141.7 L194.4 142.4 L193.3 143.1 L192.1 143.7 L191 144.4 L189.9 145.1 L188.7 145.7 L187.6 146.4 L186.5 147.1 L185.3 147.7 L184.2 148.4 L183 149 L181.9 149.7 L180.7 150.3 L179.6 150.9 L178.4 151.6 L177.3 152.2 L176.1 152.8 L175 153.5 L173.8 154.1 L172.7 154.7 L171.5 155.3 L170.3 155.9 L169.1 156.5 L167.9 157.1 L166.8 157.6 L165.6 158.2 L164.4 158.8 L163.2 159.3 L162 159.9 L160.8 160.5 L159.6 161 L158.5 161.6 L157.3 162.2 L156.1 162.7 L154.9 163.3 L153.7 163.9 L152.5 164.4 L151.3 165 L150.1 165.5 L148.9 166.1 L147.8 166.7 L146.6 167.3 L145.4 167.9 L144.3 168.5 L143.1 169.1 L142 169.8 L140.9 170.5 L139.8 171.2 L138.6 171.9 L137.5 172.6 L136.4 173.3 L135.3 174 L134.1 174.6 L133 175.2 L131.8 175.8 L130.6 176.3 L129.4 176.9 L128.3 177.5 L127.1 178.1 L125.9 178.6 L124.7 179.2 L123.6 179.8 L122.4 180.5 L121.3 181.1 L120.1 181.7 L118.9 182.3 L117.8 182.9 L116.6 183.5 L115.4 184.1 L114.2 184.6 L113 185.2 L111.8 185.7 L110.6 186.2 L109.4 186.8 L108.2 187.3 L107 187.9 L105.8 188.4 L104.6 189 L103.4 189.5 L102.2 190 L101 190.5 L99.8 191 L98.6 191.6 L97.4 192.1 L96.2 192.6 L95 193.1 L93.8 193.6 L92.5 194 L91.3 194.5 L90.1 195 L88.9 195.5 L87.6 195.9 L86.4 196.4 L85.2 196.9 L84 197.3 L82.7 197.8 L81.5 198.2 L80.2 198.6 L79 199 L77.7 199.4 L76.5 199.7 L75.2 200 L73.9 200.2 L72.5 200.4 L71.2 200.4 L69.8 200.3 L68.3 200.1 L67 199.9 L66.1 199.7Z" fill="#b5b5b5"/>
<path d="M66.1 199.7 L66.8 199.2 L67.8 198.4 L68.9 197.6 L70.1 196.9 L71.2 196.4 L72.3 196 L73.5 195.6 L74.6 195.1 L75.7 194.5 L76.7 193.8 L77.7 193.1 L78.7 192.3 L79.6 191.6 L80.6 190.8 L81.5 190 L82.4 189.2 L83.2 188.3 L84 187.4 L84.8 186.6 L85.6 185.7 L86.3 184.8 L87.1 183.9 L87.8 183.1 L88.6 182.2 L89.3 181.4 L90 180.5 L90.8 179.7 L91.5 178.9 L92.3 178.2 L93.1 177.4 L93.9 176.7 L94.7 175.9 L95.5 175.2 L96.3 174.5 L97 173.7 L97.8 173 L98.6 172.2 L99.4 171.4 L100.1 170.6 L100.9 169.9 L101.7 169.1 L102.6 168.4 L103.4 167.6 L104.2 166.9 L105 166.1 L105.9 165.3 L106.7 164.5 L107.5 163.7 L108.4 162.8 L109.2 162 L110 161.1 L110.8 160.2 L111.7 159.4 L112.7 158.6 L113.6 157.8 L114.5 156.9 L115.5 156.1 L116.4 155.3 L117.3 154.5 L118.3 153.7 L119.2 152.9 L120.1 152.1 L121 151.3 L121.9 150.5 L122.8 149.6 L123.7 148.7 L124.6 147.9 L125.5 147 L126.3 146.1 L127.2 145.2 L128 144.3 L128.9 143.5 L129.7 142.6 L130.6 141.6 L131.4 140.7 L132.2 139.8 L133.1 138.9 L133.9 138 L134.7 137.1 L135.6 136.2 L136.4 135.3 L137.2 134.4 L138.1 133.5 L138.9 132.6 L139.7 131.7 L140.6 130.8 L141.4 129.9 L142.3 129 L143.1 128.1 L144 127.2 L144.8 126.3 L145.6 125.4 L146.5 124.5 L147.3 123.6 L148.2 122.7 L149 121.8 L149.9 120.9 L150.7 120 L151.6 119.1 L152.4 118.2 L153.3 117.3 L154.1 116.4 L155 115.5 L155.8 114.6 L156.6 113.7 L157.5 112.8 L158.3 111.9 L159.2 111 L160 110.1 L160.9 109.2 L161.8 108.4 L162.7 107.5 L163.5 106.6 L164.4 105.8 L165.3 104.9 L166.1 104 L167 103.1 L167.8 102.2 L168.6 101.3 L169.5 100.4 L170.3 99.5 L171.1 98.5 L171.9 97.6 L172.7 96.7 L173.6 95.8 L174.4 94.8 L175.2 93.9 L176 93 L177 92.2 L177.9 91.5 L178.9 90.7 L179.9 90 L180.8 89.2 L181.8 88.4 L182.7 87.5 L183.5 86.7 L184.3 85.7 L185.1 84.8 L185.8 83.8 L186.6 82.8 L187.4 81.8 L188.2 80.9 L189 80 L189.8 79 L190.6 78.1 L191.4 77.2 L192.2 76.3 L193.1 75.4 L194 74.6 L195 73.8 L195.9 73 L196.9 72.2 L197.8 71.4 L198.8 70.7 L199.7 69.9 L200.6 69 L201.4 68.1 L202.1 67.1 L202.8 66.1 L203.5 65.1 L204.3 64.1 L205.1 63.1 L205.8 62.2 L206.7 61.2 L207.5 60.3 L208.3 59.5 L209.2 58.6 L210.1 57.7 L211 56.9 L211.9 56 L212.8 55.2 L213.8 54.4 L214.7 53.6 L215.7 52.9 L216.7 52.1 L217.5 51.2 L218.3 50.3 L219 49.3 L219.6 48.2 L220.3 47.2 L221.1 46.2 L221.8 45.3 L222.6 44.3 L223.5 43.5 L224.4 42.7 L225.5 42.1 L226.5 41.4 L227.4 40.6 L228.1 39.6 L228.6 38.4 L229.1 37.3 L229.8 36.2 L230.6 35.3 L231.5 34.5 L232.4 33.7 L233.3 32.9 L234.1 32 L234.9 31.1 L235.7 30.2 L236.4 29.2 L237 28.1 L237.5 27 L238 25.8 L238.7 24.8 L239.6 24 L240.6 23.3 L241.6 22.5 L242.5 21.7 L243.2 20.7 L243.8 19.7 L244.3 18.6 L245 17.5 L245.7 16.5 L246.4 15.6 L247.2 14.6 L248 13.7 L248.8 12.8 L249.7 11.9 L250.5 11 L251.4 10.1 L252.2 9.1 L252.9 8.2 L253.7 7.2 L254.5 6.2 L255.3 5.3 L256 4.3 L256.8 3.4 L257.6 2.4 L258.4 1.5 L259.2 0.5 L260 -0.4 L260.7 -1.4 L261.5 -2.3 L262.3 -3.3 L263.1 -4.2 L263.9 -5.2 L264.7 -6.2 L265.6 -7.3 L266.4 -8.3 L267 -9 L330 -20 L324 26 L318.4 31.7 L310.2 39.8 L301.4 48.6 L294 56 L288.4 61.5 L283.7 66.2 L279.3 70.4 L274.9 74.6 L270.5 78.8 L266.3 82.9 L262.1 86.8 L257.6 90.4 L252.8 93.5 L247.7 96.2 L242.6 98.9 L237.5 102 L232.2 105.8 L226.6 110.1 L221.4 114.3 L217.3 117.8 L214.7 120.3 L213.3 122.1 L212 123.7 L210 125.4 L206.9 127.3 L203.4 129.2 L199.5 131.2 L195.6 133.4 L191.6 135.9 L187.5 138.5 L183.3 141.2 L179.2 143.8 L175.1 146.2 L171.1 148.5 L167 150.7 L162.8 153 L158.5 155.3 L154.1 157.6 L149.7 160 L145.5 162.3 L141.5 164.8 L137.5 167.3 L133.8 169.8 L130.7 171.8 L128.3 173.3 L126.4 174.5 L124.7 175.5 L123 176.5 L121.2 177.7 L119.4 178.8 L117.7 179.9 L116 180.9 L114.5 181.7 L113.2 182.3 L111.8 183 L110 183.8 L107.8 184.9 L105.2 186.1 L102.6 187.3 L100 188.6 L97.5 189.9 L94.9 191.2 L92.4 192.4 L90 193.6 L87.8 194.6 L85.8 195.6 L83.8 196.5 L82 197.3 L80.4 198 L78.9 198.6 L77.5 199.2 L76 199.6 L74.4 200 L72.8 200.2 L71.2 200.4 L69.8 200.5 L68.6 200.4 L67.6 200.2 L66.7 199.9 L66.1 199.7Z" fill="#a1a1a1"/>
<path d="M66.1 199.7 L66.8 199.2 L67.8 198.4 L68.9 197.6 L70.1 196.9 L71.2 196.4 L72.3 196 L73.5 195.6 L74.6 195.1 L75.7 194.5 L76.7 193.8 L77.7 193.1 L78.7 192.3 L79.6 191.6 L80.6 190.8 L81.5 190 L82.4 189.2 L83.3 188.3 L84.1 187.4 L84.9 186.6 L85.7 185.7 L86.5 184.8 L87.3 183.9 L88.1 183 L88.9 182.2 L89.7 181.3 L90.6 180.5 L91.4 179.7 L92.2 178.9 L93.1 178.1 L94 177.4 L94.9 176.7 L95.8 176 L96.7 175.2 L97.6 174.5 L98.4 173.7 L99.3 172.9 L100.1 172.2 L101 171.4 L101.8 170.6 L102.7 169.8 L103.5 169 L104.4 168.2 L105.3 167.4 L106.1 166.6 L107 165.8 L107.9 165 L108.7 164.2 L109.6 163.4 L110.5 162.5 L111.3 161.7 L112.2 160.8 L113.1 160 L114 159.2 L114.9 158.4 L115.9 157.6 L116.8 156.8 L117.7 156 L118.6 155.2 L119.6 154.3 L120.5 153.5 L121.4 152.7 L122.3 151.9 L123.2 151.1 L124.1 150.2 L125 149.4 L125.9 148.5 L126.8 147.6 L127.6 146.8 L128.5 145.9 L129.3 145 L130.2 144.1 L131 143.2 L131.8 142.3 L132.7 141.3 L133.5 140.4 L134.3 139.5 L135.1 138.6 L135.9 137.7 L136.7 136.8 L137.6 135.8 L138.4 134.9 L139.2 134 L140 133.1 L140.9 132.2 L141.7 131.3 L142.5 130.4 L143.4 129.5 L144.2 128.6 L145.1 127.7 L145.9 126.8 L146.8 125.9 L147.6 125 L148.5 124.1 L149.3 123.2 L150.2 122.4 L151 121.5 L151.9 120.6 L152.7 119.7 L153.6 118.8 L154.4 117.9 L155.3 117 L156.1 116.2 L157 115.3 L157.9 114.4 L158.7 113.5 L159.5 112.6 L160.4 111.7 L161.2 110.8 L162.1 110 L163 109.1 L163.8 108.2 L164.7 107.3 L165.6 106.5 L166.4 105.6 L167.3 104.7 L168.2 103.8 L169 103 L169.9 102.1 L170.7 101.2 L171.6 100.3 L172.4 99.4 L173.2 98.5 L174.1 97.6 L174.9 96.7 L175.7 95.8 L176.6 94.8 L177.4 93.9 L178.3 93.1 L179.2 92.2 L180.1 91.4 L181 90.6 L181.9 89.8 L182.8 89 L183.7 88.1 L184.6 87.3 L185.5 86.4 L186.3 85.5 L187.1 84.6 L187.9 83.6 L188.7 82.7 L189.5 81.8 L190.3 80.9 L191.2 80 L192 79.1 L192.9 78.2 L193.7 77.3 L194.6 76.4 L195.5 75.6 L196.3 74.7 L197.2 73.9 L198.1 73 L199 72.2 L199.9 71.3 L200.8 70.5 L201.7 69.6 L202.5 68.8 L203.4 67.9 L204.2 67 L205 66 L205.8 65.1 L206.6 64.2 L207.5 63.3 L208.3 62.4 L209.1 61.5 L210 60.6 L210.8 59.7 L211.7 58.8 L212.5 58 L213.4 57.1 L214.3 56.2 L215.2 55.4 L216.1 54.6 L217 53.7 L217.9 53 L218.9 52.1 L219.8 51.3 L220.6 50.4 L221.3 49.4 L222.1 48.4 L222.8 47.5 L223.6 46.5 L224.4 45.6 L225.2 44.7 L226 43.8 L227 43 L228 42.3 L229 41.5 L229.9 40.7 L230.6 39.7 L231.2 38.7 L231.8 37.6 L232.5 36.6 L233.3 35.7 L234.1 34.8 L235 33.9 L235.8 33 L236.6 32.1 L237.4 31.2 L238.2 30.2 L239 29.3 L239.6 28.3 L240.3 27.2 L240.9 26.1 L241.6 25.1 L242.3 24.2 L243.1 23.3 L244 22.4 L244.7 21.5 L245.5 20.5 L246.2 19.6 L246.9 18.6 L247.6 17.6 L248.4 16.6 L249.2 15.7 L249.9 14.7 L250.7 13.8 L251.5 12.8 L252.3 11.9 L253.1 11 L253.9 10 L254.7 9.1 L255.5 8.1 L256.3 7.2 L257 6.2 L257.8 5.3 L258.6 4.3 L259.4 3.4 L260.1 2.4 L260.9 1.5 L261.7 0.5 L262.5 -0.4 L263.3 -1.4 L264 -2.3 L264.8 -3.3 L265.6 -4.2 L266.4 -5.2 L267.2 -6.2 L268.1 -7.3 L268.9 -8.3 L269.5 -9 L330 -20 L324 17 L323.3 17.7 L322.4 18.7 L321.3 19.8 L320.3 20.8 L319.4 21.8 L318.4 22.7 L317.5 23.7 L316.6 24.7 L315.7 25.6 L314.7 26.6 L313.8 27.5 L312.9 28.5 L312 29.5 L311 30.4 L310.1 31.4 L309.2 32.3 L308.2 33.3 L307.3 34.2 L306.4 35.2 L305.5 36.2 L304.5 37.1 L303.6 38.1 L302.7 39 L301.8 40 L300.8 40.9 L299.9 41.9 L299 42.9 L298 43.8 L297.1 44.8 L296.2 45.7 L295.3 46.7 L294.3 47.6 L293.4 48.6 L292.5 49.6 L291.6 50.5 L290.6 51.5 L289.7 52.5 L288.8 53.4 L287.9 54.4 L287 55.3 L286 56.3 L285.1 57.2 L284.1 58.1 L283.2 59.1 L282.2 60 L281.2 60.9 L280.2 61.8 L279.2 62.6 L278.2 63.5 L277.2 64.4 L276.3 65.3 L275.3 66.2 L274.3 67.1 L273.3 68 L272.2 68.8 L271.2 69.7 L270.2 70.5 L269.1 71.3 L268 72 L266.9 72.8 L265.9 73.6 L264.8 74.4 L263.8 75.2 L262.7 76 L261.6 76.8 L260.6 77.6 L259.5 78.4 L258.4 79.2 L257.3 79.9 L256.3 80.7 L255.1 81.4 L254 82.2 L252.9 82.9 L251.8 83.6 L250.7 84.3 L249.6 85.1 L248.5 85.8 L247.4 86.5 L246.3 87.3 L245.1 88 L244 88.7 L242.9 89.5 L241.8 90.2 L240.7 90.9 L239.6 91.7 L238.5 92.4 L237.4 93.1 L236.3 93.9 L235.2 94.7 L234.1 95.5 L233.1 96.3 L232 97.1 L231 97.9 L229.9 98.7 L228.8 99.5 L227.8 100.3 L226.7 101.1 L225.6 101.9 L224.6 102.7 L223.5 103.5 L222.4 104.3 L221.3 105.1 L220.3 105.9 L219.2 106.7 L218.1 107.4 L217.1 108.2 L216 109 L214.9 109.9 L213.9 110.7 L212.9 111.6 L211.9 112.4 L210.9 113.3 L209.9 114.2 L208.9 115 L207.9 115.9 L206.8 116.7 L205.7 117.4 L204.6 118.1 L203.4 118.8 L202.3 119.5 L201.3 120.3 L200.2 121.1 L199.2 121.9 L198.1 122.7 L197.1 123.5 L196 124.3 L195 125.1 L193.9 125.9 L192.9 126.7 L191.8 127.6 L190.8 128.4 L189.7 129.2 L188.7 130 L187.6 130.7 L186.5 131.5 L185.4 132.3 L184.4 133.1 L183.3 133.9 L182.2 134.7 L181.2 135.5 L180.1 136.2 L179 137 L177.8 137.7 L176.7 138.4 L175.6 139.1 L174.5 139.8 L173.3 140.5 L172.2 141.2 L171 141.9 L169.9 142.6 L168.8 143.3 L167.6 144 L166.5 144.7 L165.4 145.4 L164.2 146.1 L163.1 146.8 L162 147.5 L160.8 148.2 L159.7 148.9 L158.6 149.6 L157.4 150.3 L156.3 151 L155.2 151.7 L154 152.4 L152.9 153.1 L151.8 153.8 L150.7 154.5 L149.5 155.2 L148.4 155.9 L147.3 156.6 L146.2 157.4 L145.1 158.1 L144 158.8 L142.9 159.6 L141.8 160.3 L140.7 161.1 L139.6 161.9 L138.5 162.6 L137.4 163.4 L136.3 164.1 L135.2 164.9 L134.1 165.7 L133 166.4 L131.9 167.2 L130.8 167.9 L129.7 168.7 L128.6 169.4 L127.5 170.2 L126.4 171 L125.3 171.7 L124.2 172.5 L123.1 173.2 L122 174 L121 174.7 L119.9 175.5 L118.7 176.2 L117.6 176.9 L116.5 177.7 L115.4 178.4 L114.2 179 L113.1 179.7 L111.9 180.3 L110.7 180.9 L109.5 181.5 L108.3 182.1 L107.2 182.8 L106 183.4 L104.8 184 L103.6 184.6 L102.5 185.3 L101.3 185.9 L100.1 186.5 L98.9 187.1 L97.7 187.8 L96.6 188.4 L95.4 189 L94.2 189.6 L93.1 190.3 L91.9 190.9 L90.7 191.5 L89.5 192.1 L88.3 192.8 L87.1 193.4 L86 194 L84.8 194.6 L83.6 195.2 L82.4 195.8 L81.2 196.4 L80 197 L78.8 197.6 L77.6 198.1 L76.4 198.6 L75.2 199.1 L73.9 199.5 L72.6 199.9 L71.3 200.1 L69.9 200.1 L68.4 200 L67 199.8 L66.1 199.7Z" fill="#8d8d8d"/>
<path d="M66.1 199.7 L66.1 199.7 L66.2 199.6 L66.2 199.6 L66.2 199.5 L66.3 199.5 L66.3 199.4 L66.4 199.4 L66.4 199.3 L66.5 199.3 L66.5 199.2 L66.6 199.1 L66.7 199.1 L66.7 199 L66.8 198.9 L66.8 198.9 L66.9 198.8 L67 198.7 L67.1 198.7 L67.1 198.6 L67.2 198.5 L67.3 198.5 L67.3 198.4 L67.4 198.4 L67.5 198.3 L67.6 198.2 L67.6 198.2 L67.7 198.1 L67.8 198.1 L67.9 198 L67.9 198 L68 197.9 L68.1 197.9 L68.1 197.9 L68.2 197.8 L68.3 197.8 L68.4 197.7 L68.5 197.7 L68.5 197.6 L68.6 197.6 L68.7 197.5 L68.8 197.5 L69 197.4 L69.1 197.3 L69.2 197.3 L69.3 197.2 L69.5 197.1 L69.6 197.1 L69.8 197 L70 196.9 L70.2 196.8 L70.4 196.8 L70.6 196.7 L70.8 196.6 L71 196.5 L71.2 196.4 L71.5 196.4 L71.7 196.3 L72 196.2 L72.2 196.1 L72.5 196 L72.7 195.9 L73 195.8 L73.3 195.7 L73.5 195.6 L73.8 195.5 L74.1 195.4 L74.3 195.2 L74.6 195.1 L74.9 195 L75.2 194.8 L75.4 194.7 L75.7 194.5 L76 194.3 L76.2 194.1 L76.5 194 L76.8 193.8 L77.1 193.6 L77.4 193.3 L77.7 193.1 L78 192.9 L78.3 192.7 L78.6 192.4 L78.9 192.2 L79.2 192 L79.5 191.7 L79.8 191.5 L80.1 191.2 L80.4 191 L80.7 190.7 L80.9 190.5 L81.2 190.2 L81.5 190 L81.8 189.7 L82.1 189.5 L82.3 189.2 L82.6 189 L82.9 188.8 L83.1 188.5 L83.4 188.3 L83.6 188 L83.8 187.8 L84.1 187.6 L84.3 187.3 L84.6 187.1 L84.8 186.8 L85 186.6 L85.2 186.3 L85.5 186.1 L85.7 185.8 L85.9 185.6 L86.1 185.4 L86.4 185.1 L86.6 184.9 L86.8 184.6 L87 184.4 L87.2 184.2 L87.5 184 L87.7 183.7 L87.9 183.5 L88.1 183.3 L88.3 183.1 L88.5 182.9 L88.7 182.7 L88.9 182.5 L89.1 182.3 L89.3 182.1 L89.5 181.9 L89.7 181.7 L89.9 181.5 L90.1 181.4 L90.3 181.2 L90.5 181 L90.7 180.8 L90.9 180.6 L91.1 180.5 L91.3 180.3 L91.5 180.1 L91.7 179.9 L91.9 179.7 L92.1 179.6 L92.3 179.4 L92.5 179.2 L92.8 179 L93 178.8 L93.2 178.6 L93.5 178.4 L93.7 178.2 L94 178.1 L94.2 177.9 L94.4 177.7 L94.7 177.5 L94.9 177.4 L95.2 177.2 L95.4 177 L95.7 176.9 L95.9 176.7 L96.2 176.5 L96.5 176.3 L96.7 176.1 L97 175.9 L97.3 175.7 L97.6 175.5 L97.9 175.3 L98.2 175 L98.5 174.8 L98.8 174.6 L99.2 174.3 L99.5 174 L99.9 173.7 L100.2 173.4 L100.6 173 L101 172.7 L101.4 172.3 L101.9 171.9 L102.3 171.5 L102.8 171.1 L103.2 170.7 L103.7 170.3 L104.1 169.9 L104.6 169.5 L105.1 169.1 L105.5 168.6 L106 168.2 L106.4 167.8 L106.8 167.4 L107.3 167 L107.7 166.7 L108.1 166.3 L108.5 165.9 L108.8 165.6 L109.2 165.3 L109.5 165 L109.8 164.7 L110.1 164.5 L110.3 164.3 L110.5 164.1 L110.7 163.9 L110.9 163.7 L111.1 163.6 L111.2 163.5 L111.4 163.3 L111.5 163.2 L111.6 163.1 L111.8 163 L111.9 162.8 L112 162.7 L112.2 162.6 L112.4 162.4 L112.5 162.3 L112.7 162.1 L113 161.9 L113.2 161.7 L113.5 161.4 L113.8 161.1 L114.1 160.8 L114.5 160.5 L114.9 160.1 L115.3 159.8 L115.8 159.4 L116.3 158.9 L116.8 158.5 L117.3 158.1 L117.8 157.6 L118.4 157.1 L119 156.6 L119.5 156.1 L120.1 155.6 L120.8 155.1 L121.4 154.6 L122 154 L122.6 153.4 L123.3 152.9 L123.9 152.3 L124.6 151.7 L125.2 151.1 L125.9 150.5 L126.5 149.9 L127.1 149.3 L127.8 148.6 L128.4 148 L129 147.4 L129.7 146.7 L130.3 146 L130.9 145.3 L131.6 144.6 L132.2 143.9 L132.8 143.2 L133.5 142.5 L134.1 141.7 L134.8 141 L135.4 140.2 L136.1 139.5 L136.8 138.7 L137.4 137.9 L138.1 137.1 L138.8 136.4 L139.5 135.6 L140.2 134.8 L140.9 134 L141.6 133.2 L142.3 132.4 L143 131.6 L143.8 130.8 L144.5 130 L145.2 129.2 L145.9 128.5 L146.7 127.7 L147.4 127 L148.1 126.2 L148.8 125.5 L149.5 124.8 L150.2 124 L150.9 123.3 L151.6 122.6 L152.4 121.8 L153.1 121.1 L153.9 120.3 L154.7 119.5 L155.5 118.7 L156.3 117.9 L157.1 117 L158 116.1 L158.9 115.2 L159.9 114.2 L160.8 113.2 L161.8 112.2 L162.9 111.1 L164 110 L165.2 108.8 L166.3 107.6 L167.6 106.3 L168.9 105 L170.2 103.7 L171.5 102.3 L172.9 100.9 L174.3 99.4 L175.8 98 L177.2 96.5 L178.7 94.9 L180.2 93.4 L181.7 91.9 L183.3 90.4 L184.9 88.8 L186.4 87.3 L187.9 85.7 L189.3 84.1 L190.8 82.5 L192.3 80.9 L193.8 79.4 L195.4 78 L196.9 76.6 L198.4 75.1 L199.9 73.6 L201.3 72 L202.6 70.4 L204.1 68.8 L205.7 67.3 L207.3 65.9 L209 64.4 L210.6 62.9 L212.1 61.3 L213.6 59.6 L215.1 58 L216.6 56.4 L218.2 54.9 L219.7 53.5 L221.3 52 L222.8 50.6 L224.1 49.1 L225.4 47.6 L226.7 46.1 L227.9 44.7 L229.2 43.5 L230.6 42.4 L231.8 41.3 L232.9 40.2 L233.9 39.1 L234.7 38 L235.4 36.9 L236.1 35.9 L236.7 35 L237.4 34.2 L238 33.4 L238.5 32.7 L239.1 32 L239.7 31.4 L240.3 30.8 L240.8 30.2 L241.4 29.6 L241.9 29.1 L242.4 28.5 L242.9 27.8 L243.4 27.1 L243.9 26.4 L244.4 25.6 L244.9 24.7 L245.4 23.8 L246 22.8 L246.6 21.8 L247.4 20.8 L248.3 19.7 L249.3 18.7 L250.4 17.6 L251.5 16.4 L252.6 15.1 L253.7 13.6 L254.8 12.2 L255.9 10.7 L257.1 9.2 L258.3 7.8 L259.5 6.3 L260.7 4.8 L261.9 3.4 L263.1 1.9 L264.2 0.5 L265.3 -0.8 L266.4 -2.1 L267.4 -3.4 L268.4 -4.5 L269.2 -5.6 L270.1 -6.6 L270.9 -7.6 L271.5 -8.4 L272 -9 L330 -20 L324 8 L318.1 14.3 L309.6 23.4 L300.7 32.8 L294 40 L290.4 44 L288.4 46.3 L287 47.9 L285 50 L282.2 52.7 L279.2 55.4 L275.8 58.1 L272 61 L267.5 63.8 L262.6 66.7 L257.3 69.7 L251.9 73.1 L246.5 77 L240.9 81.2 L235 85.7 L228.8 90.4 L221.5 95.5 L213.5 101 L206 106.2 L200 110.6 L196.4 113.7 L194.3 115.9 L192.7 117.9 L190.7 120 L188.3 122.3 L185.9 124.5 L183 126.9 L179.2 129.8 L173.9 133.5 L167.5 137.7 L160.8 142.1 L154.6 146.4 L148.7 150.6 L142.9 155 L137.6 159 L133.2 162.3 L130 164.7 L127.8 166.4 L125.9 167.8 L124 169.3 L121.9 170.9 L119.8 172.5 L117.8 174 L116 175.3 L114.5 176.3 L113.1 177 L111.7 177.7 L110 178.7 L107.8 180 L105.2 181.5 L102.6 183 L100 184.5 L97.5 185.9 L95 187.4 L92.5 188.8 L90 190.2 L87.4 191.7 L84.8 193.1 L82.2 194.6 L80 195.8 L78.2 196.9 L76.6 197.8 L75.3 198.6 L74 199.2 L72.8 199.7 L71.8 200 L70.8 200.2 L69.8 200.3 L68.8 200.3 L67.7 200.1 L66.8 199.8 L66.1 199.7Z" fill="#797979"/>
<path d="M74.5 195.2 L75.2 194.6 L76.1 193.8 L77.1 192.9 L78.1 192.1 L79.1 191.4 L80.1 190.8 L81.1 190.2 L82.1 189.6 L83.1 188.9 L84.1 188.2 L85 187.5 L86 186.8 L86.9 186.1 L87.9 185.4 L88.8 184.6 L89.7 183.8 L90.6 183.1 L91.5 182.3 L92.4 181.5 L93.3 180.7 L94.2 179.9 L95.1 179.1 L96 178.3 L96.8 177.5 L97.7 176.7 L98.6 175.9 L99.5 175.1 L100.4 174.3 L101.4 173.6 L102.3 172.8 L103.3 172.1 L104.2 171.4 L105.1 170.6 L106 169.8 L106.9 169.1 L107.8 168.3 L108.7 167.5 L109.6 166.7 L110.5 165.8 L111.4 165 L112.2 164.2 L113.1 163.4 L114 162.6 L114.9 161.8 L115.7 161 L116.6 160.1 L117.5 159.3 L118.4 158.5 L119.3 157.7 L120.2 156.9 L121.1 156.2 L122 155.4 L122.9 154.6 L123.8 153.8 L124.7 153 L125.6 152.2 L126.5 151.4 L127.3 150.6 L128.2 149.7 L129 148.9 L129.8 148 L130.7 147.2 L131.5 146.3 L132.3 145.4 L133.1 144.6 L133.9 143.7 L134.8 142.8 L135.6 141.9 L136.4 141 L137.2 140.1 L137.9 139.2 L138.7 138.3 L139.5 137.4 L140.3 136.5 L141.1 135.6 L141.9 134.7 L142.7 133.8 L143.5 133 L144.3 132.1 L145.2 131.3 L146 130.4 L146.8 129.5 L147.7 128.7 L148.5 127.8 L149.3 127 L150.2 126.1 L151 125.3 L151.9 124.4 L152.7 123.6 L153.6 122.8 L154.4 121.9 L155.3 121.1 L156.1 120.2 L157 119.4 L157.8 118.6 L158.7 117.7 L159.6 116.9 L160.4 116.1 L161.3 115.2 L162.1 114.4 L163 113.6 L163.8 112.7 L164.7 111.9 L165.5 111 L166.4 110.2 L167.2 109.3 L168 108.5 L168.9 107.6 L169.7 106.8 L170.6 105.9 L171.4 105.1 L172.3 104.2 L173.1 103.4 L173.9 102.5 L174.8 101.7 L175.6 100.8 L176.5 100 L177.3 99.1 L178.1 98.3 L179 97.4 L179.8 96.6 L180.7 95.7 L181.5 94.9 L182.3 94 L183.2 93.1 L184 92.3 L184.9 91.4 L185.7 90.6 L186.5 89.7 L187.4 88.9 L188.3 88.1 L189.1 87.2 L189.9 86.4 L190.8 85.5 L191.6 84.7 L192.5 83.8 L193.3 83 L194.1 82.1 L195 81.2 L195.8 80.4 L196.6 79.5 L197.5 78.7 L198.3 77.8 L199.2 77 L200 76.2 L200.9 75.3 L201.7 74.5 L202.6 73.6 L203.4 72.8 L204.3 71.9 L205.1 71 L205.9 70.2 L206.7 69.3 L207.5 68.4 L208.3 67.6 L209.2 66.7 L210 65.9 L210.9 65 L211.8 64.2 L212.6 63.4 L213.5 62.5 L214.3 61.7 L215.2 60.9 L216 60 L216.9 59.2 L217.7 58.3 L218.5 57.4 L219.3 56.5 L220.2 55.7 L221 54.8 L221.8 54 L222.7 53.1 L223.5 52.3 L224.4 51.5 L225.3 50.6 L226.1 49.8 L226.9 48.9 L227.8 48.1 L228.6 47.2 L229.4 46.3 L230.2 45.5 L231 44.6 L231.9 43.7 L232.7 42.9 L233.5 42 L234.4 41.2 L235.2 40.3 L236 39.5 L236.8 38.5 L237.5 37.6 L238.3 36.6 L239 35.7 L239.7 34.8 L240.5 33.8 L241.2 32.8 L241.9 31.9 L242.7 31 L243.5 30.1 L244.2 29.2 L245 28.3 L245.7 27.3 L246.5 26.4 L247.2 25.4 L247.9 24.4 L248.6 23.5 L249.3 22.5 L249.9 21.5 L250.7 20.5 L251.4 19.6 L252.2 18.7 L253 17.8 L253.8 16.9 L254.5 16 L255.3 15.1 L256.1 14.2 L256.8 13.2 L257.6 12.3 L258.3 11.4 L259.1 10.4 L259.8 9.5 L260.6 8.6 L261.3 7.7 L262.1 6.7 L262.9 5.8 L263.6 4.9 L264.4 4 L265.1 3 L265.9 2.1 L266.7 1.2 L267.4 0.3 L268.2 -0.7 L268.9 -1.6 L269.7 -2.5 L270.4 -3.4 L271.2 -4.4 L272 -5.3 L272.8 -6.3 L273.7 -7.4 L274.5 -8.3 L275 -9 L330 -20 L304 -0.5 L303.6 0.3 L303.1 1.4 L302.6 2.7 L302 3.9 L301.6 5 L301.1 6.1 L300.6 7.2 L300.1 8.3 L299.6 9.5 L299.1 10.6 L298.6 11.7 L298.1 12.8 L297.6 13.9 L297.2 15 L296.7 16.1 L296.2 17.2 L295.7 18.3 L295.2 19.4 L294.7 20.5 L294.2 21.6 L293.7 22.7 L293.3 23.8 L292.8 24.9 L292.3 26 L291.7 27.2 L291.2 28.3 L290.6 29.4 L290 30.4 L289.3 31.5 L288.6 32.5 L287.8 33.5 L286.9 34.4 L286.1 35.4 L285.2 36.3 L284.3 37.3 L283.5 38.2 L282.6 39.2 L281.7 40.2 L280.9 41.1 L280 42.1 L279.1 43 L278.3 44 L277.4 44.9 L276.5 45.8 L275.6 46.7 L274.7 47.6 L273.7 48.5 L272.8 49.4 L271.8 50.2 L270.8 51.1 L269.8 51.9 L268.8 52.7 L267.8 53.5 L266.8 54.3 L265.8 55.1 L264.8 55.9 L263.7 56.6 L262.7 57.3 L261.6 58.1 L260.5 58.8 L259.5 59.5 L258.4 60.2 L257.3 61 L256.3 61.7 L255.2 62.4 L254.1 63.1 L253.1 63.8 L252 64.5 L250.9 65.3 L249.8 66 L248.8 66.7 L247.7 67.4 L246.7 68.2 L245.6 68.9 L244.6 69.7 L243.6 70.5 L242.6 71.3 L241.6 72.1 L240.6 72.9 L239.6 73.8 L238.6 74.6 L237.6 75.4 L236.6 76.2 L235.6 77 L234.6 77.8 L233.6 78.6 L232.6 79.4 L231.6 80.2 L230.5 81 L229.5 81.8 L228.5 82.6 L227.5 83.5 L226.6 84.3 L225.6 85.1 L224.6 86 L223.6 86.8 L222.7 87.6 L221.7 88.5 L220.7 89.3 L219.8 90.2 L218.8 91 L217.8 91.8 L216.8 92.6 L215.8 93.5 L214.8 94.3 L213.9 95.1 L212.9 96 L211.9 96.8 L210.9 97.5 L209.8 98.3 L208.8 99 L207.7 99.8 L206.6 100.5 L205.6 101.2 L204.5 102 L203.5 102.7 L202.4 103.4 L201.4 104.2 L200.3 104.9 L199.3 105.7 L198.3 106.6 L197.4 107.5 L196.5 108.4 L195.6 109.3 L194.7 110.3 L193.8 111.2 L192.9 112.1 L192 113 L191.1 113.9 L190.2 114.8 L189.2 115.7 L188.3 116.6 L187.3 117.4 L186.3 118.2 L185.3 119.1 L184.3 119.9 L183.3 120.7 L182.3 121.5 L181.3 122.3 L180.3 123.1 L179.3 123.9 L178.2 124.6 L177.2 125.4 L176.1 126.1 L175.1 126.9 L174 127.6 L173 128.4 L172 129.2 L170.9 129.9 L169.9 130.7 L168.9 131.5 L167.8 132.2 L166.8 133 L165.7 133.8 L164.7 134.5 L163.7 135.3 L162.6 136.1 L161.6 136.8 L160.6 137.6 L159.5 138.3 L158.5 139.1 L157.4 139.9 L156.4 140.7 L155.4 141.4 L154.4 142.2 L153.3 143 L152.3 143.8 L151.3 144.6 L150.3 145.4 L149.3 146.1 L148.2 146.9 L147.2 147.7 L146.2 148.5 L145.2 149.3 L144.2 150.1 L143.2 150.9 L142.2 151.7 L141.2 152.5 L140.2 153.3 L139.2 154.2 L138.2 155 L137.1 155.8 L136.1 156.6 L135.1 157.4 L134.1 158.2 L133.1 159 L132.1 159.8 L131.1 160.6 L130.1 161.4 L129.1 162.2 L128.1 163 L127.1 163.8 L126.1 164.6 L125.1 165.4 L124 166.2 L123 167 L121.9 167.7 L120.9 168.5 L119.8 169.2 L118.8 169.9 L117.7 170.6 L116.6 171.3 L115.5 172 L114.5 172.7 L113.4 173.4 L112.3 174.1 L111.2 174.8 L110.1 175.5 L109.1 176.2 L108 176.9 L106.9 177.6 L105.8 178.3 L104.7 179 L103.6 179.7 L102.5 180.4 L101.5 181.1 L100.4 181.8 L99.3 182.4 L98.2 183.1 L97.1 183.8 L96 184.5 L94.9 185.2 L93.8 185.9 L92.7 186.5 L91.6 187.2 L90.5 187.9 L89.4 188.6 L88.3 189.2 L87.2 189.9 L86.1 190.6 L85 191.3 L83.9 191.9 L82.8 192.6 L81.7 193.2 L80.6 193.8 L79.4 194.3 L78.1 194.7 L76.7 194.9 L75.4 195.1 L74.5 195.2Z" fill="#656565"/>
<path d="M83 190.7 L83.3 190.3 L83.7 189.8 L84.2 189.1 L85 188.3 L86 187.3 L87.2 186.1 L88.6 184.9 L90 183.7 L91.4 182.6 L92.9 181.5 L94.4 180.5 L96 179.3 L97.6 178.1 L99.2 176.9 L101 175.6 L103 174 L105.4 172 L108 169.8 L110.8 167.4 L113.5 165 L116.2 162.5 L118.9 159.9 L121.5 157.3 L124 155 L126.1 153.2 L128 151.7 L130 150 L132.6 147.5 L135.7 143.9 L139.3 139.5 L143.2 134.8 L147.6 130 L152.2 125.5 L157 121.1 L162.5 116.1 L169 110 L176.8 102.3 L185.7 93.4 L195 84.1 L204 75 L213.1 65.9 L222.4 56.5 L231.1 47.6 L238.3 40 L243.2 34.4 L246.4 30.2 L249.3 26.1 L253.3 21 L259.4 13.6 L266.6 4.8 L273.3 -3.4 L278 -9 L330 -20 L284 -9 L283.8 -3 L283.4 5.6 L283 14.5 L282.7 21 L282.5 24.2 L282.4 25.5 L282.2 26.1 L281.6 27 L280.7 28.3 L279.6 29.4 L278.2 30.7 L276.5 32.5 L274.3 35 L271.8 38.1 L269 41.3 L266 44.3 L262.7 47.2 L259.1 50 L255.4 52.7 L252 55.3 L249 57.6 L246.1 59.6 L243.2 61.7 L240 64.3 L236.1 67.6 L231.8 71.3 L227.5 75.1 L224 78.3 L221.4 80.9 L219.4 83 L217.7 85 L216 86.8 L214.3 88.5 L212.8 90.1 L211.4 91.5 L210 92.8 L208.7 93.8 L207.4 94.7 L206.2 95.4 L205 96.2 L203.8 97 L202.5 97.8 L201.2 98.7 L200 99.6 L198.8 100.6 L197.5 101.8 L196.2 103 L195 104.2 L193.8 105.5 L192.5 106.9 L191.2 108.3 L190 109.6 L188.8 110.7 L187.8 111.6 L186.5 112.6 L185 113.8 L183.1 115.2 L180.9 116.9 L178.5 118.6 L176 120.5 L173.5 122.5 L171 124.6 L168.3 126.8 L165.2 129.3 L161.8 132 L158.1 135 L154.1 138.1 L150 141.5 L145.4 145.4 L140.5 149.7 L135.8 153.8 L132 157 L129.6 158.9 L128.2 160 L127.1 160.9 L125.5 162 L123.3 163.7 L120.7 165.5 L118.2 167.4 L116 169 L114.3 170.2 L113 171.2 L111.7 172.1 L110 173.3 L107.8 174.9 L105.2 176.7 L102.6 178.5 L100 180.3 L97.4 182.1 L94.6 183.9 L92.1 185.6 L90 187 L88.6 188 L87.6 188.8 L86.8 189.3 L86 189.8 L85.1 190.2 L84.2 190.4 L83.5 190.6 L83 190.7Z" fill="#515151"/>
<path d="M103.4 175 L103.6 174.6 L103.8 174.1 L104.1 173.6 L104.6 173 L105.4 172.3 L106.3 171.5 L107.3 170.7 L108.2 169.9 L109.1 169.2 L110 168.4 L110.9 167.7 L111.8 166.9 L112.7 166.1 L113.5 165.4 L114.4 164.6 L115.3 163.8 L116.1 163 L117 162.2 L117.8 161.4 L118.7 160.6 L119.5 159.8 L120.4 159 L121.3 158.2 L122.1 157.4 L123 156.6 L123.8 155.8 L124.7 155 L125.6 154.3 L126.4 153.5 L127.3 152.7 L128.2 152 L129.1 151.2 L130 150.4 L130.9 149.7 L131.8 148.9 L132.6 148.1 L133.4 147.3 L134.2 146.4 L135 145.5 L135.8 144.7 L136.5 143.8 L137.3 142.9 L138.1 142 L138.8 141.1 L139.6 140.3 L140.4 139.4 L141.2 138.5 L141.9 137.6 L142.7 136.7 L143.5 135.9 L144.2 135 L145 134.1 L145.8 133.2 L146.5 132.3 L147.3 131.5 L148.1 130.6 L148.9 129.8 L149.8 129 L150.7 128.2 L151.5 127.4 L152.4 126.6 L153.2 125.8 L154.1 125 L155 124.2 L155.8 123.4 L156.7 122.6 L157.5 121.8 L158.4 121.1 L159.2 120.3 L160.1 119.5 L161 118.7 L161.8 117.9 L162.7 117.1 L163.5 116.3 L164.4 115.5 L165.3 114.7 L166.1 113.9 L167 113.1 L167.8 112.3 L168.7 111.5 L169.6 110.7 L170.4 109.9 L171.2 109.1 L172.1 108.3 L172.9 107.5 L173.8 106.7 L174.6 105.8 L175.4 105 L176.2 104.2 L177.1 103.4 L177.9 102.5 L178.7 101.7 L179.6 100.9 L180.4 100 L181.2 99.2 L182 98.4 L182.9 97.6 L183.7 96.7 L184.5 95.9 L185.3 95.1 L186.2 94.3 L187 93.5 L187.9 92.6 L188.7 91.8 L189.5 91 L190.4 90.2 L191.2 89.4 L192 88.6 L192.9 87.7 L193.7 86.9 L194.5 86.1 L195.4 85.3 L196.2 84.5 L197 83.6 L197.9 82.8 L198.7 82 L199.5 81.1 L200.3 80.3 L201.2 79.5 L202 78.7 L202.8 77.8 L203.6 77 L204.5 76.2 L205.3 75.3 L206.1 74.5 L206.9 73.7 L207.8 72.8 L208.6 72 L209.4 71.2 L210.2 70.3 L211 69.5 L211.9 68.7 L212.7 67.8 L213.5 67 L214.3 66.2 L215.2 65.4 L216 64.5 L216.8 63.7 L217.6 62.9 L218.5 62 L219.3 61.2 L220.1 60.4 L220.9 59.5 L221.7 58.7 L222.6 57.9 L223.4 57.1 L224.2 56.2 L225.1 55.4 L225.9 54.6 L226.7 53.7 L227.5 52.9 L228.4 52.1 L229.2 51.3 L230 50.4 L230.8 49.6 L231.7 48.8 L232.5 48 L233.3 47.1 L234.2 46.3 L235 45.5 L235.8 44.7 L236.6 43.8 L237.5 43 L238.3 42.2 L239.1 41.3 L239.9 40.5 L240.6 39.6 L241.4 38.7 L242.2 37.8 L242.9 36.9 L243.6 36 L244.4 35.1 L245.1 34.2 L245.8 33.3 L246.5 32.3 L247.3 31.4 L248 30.5 L248.7 29.6 L249.5 28.7 L250.2 27.8 L250.9 26.8 L251.6 25.9 L252.4 25 L253.1 24.1 L253.8 23.2 L254.6 22.3 L255.3 21.4 L256.1 20.5 L256.8 19.6 L257.5 18.7 L258.3 17.7 L259 16.8 L259.7 15.9 L260.4 15 L261.1 14.1 L261.8 13.1 L262.5 12.2 L263.2 11.3 L263.9 10.4 L264.6 9.5 L265.3 8.5 L265.9 7.6 L266.6 6.7 L267.3 5.8 L268 4.8 L268.7 3.9 L269.4 3 L270.1 2.1 L270.8 1.2 L271.5 0.2 L272.2 -0.7 L272.9 -1.6 L273.6 -2.5 L274.3 -3.5 L275 -4.4 L275.6 -5.3 L276.4 -6.3 L277.2 -7.4 L277.9 -8.3 L278.4 -9 L330 -20 L281.4 -9 L281.1 -8.2 L280.7 -7.1 L280.3 -5.9 L279.9 -4.7 L279.6 -3.6 L279.2 -2.5 L278.9 -1.4 L278.5 -0.3 L278.2 0.7 L277.8 1.8 L277.4 2.9 L277.1 4 L276.7 5.1 L276.4 6.2 L276 7.2 L275.7 8.3 L275.3 9.4 L275 10.5 L274.6 11.6 L274.2 12.6 L273.9 13.7 L273.6 14.8 L273.2 15.9 L272.8 17 L272.4 18.1 L272 19.2 L271.6 20.2 L271.1 21.3 L270.5 22.3 L269.8 23.2 L269.1 24.2 L268.4 25.1 L267.6 26 L266.8 26.9 L266 27.8 L265.2 28.7 L264.5 29.7 L263.7 30.6 L262.9 31.5 L262.1 32.4 L261.4 33.3 L260.6 34.2 L259.8 35.2 L259 36.1 L258.3 37 L257.5 37.9 L256.7 38.8 L255.9 39.7 L255.1 40.6 L254.3 41.4 L253.4 42.3 L252.6 43.1 L251.7 43.9 L250.8 44.7 L249.9 45.5 L249 46.3 L248.1 47.1 L247.2 47.9 L246.3 48.7 L245.4 49.5 L244.5 50.3 L243.6 51.1 L242.7 51.8 L241.8 52.6 L240.9 53.4 L240 54.2 L239.1 55 L238.2 55.7 L237.3 56.5 L236.4 57.3 L235.5 58.1 L234.6 58.9 L233.7 59.6 L232.8 60.4 L231.9 61.2 L231 62 L230.1 62.8 L229.2 63.6 L228.3 64.5 L227.5 65.3 L226.6 66.1 L225.7 66.9 L224.8 67.7 L224 68.6 L223.1 69.4 L222.2 70.2 L221.3 71 L220.4 71.8 L219.6 72.6 L218.7 73.5 L217.8 74.3 L216.9 75.1 L216.1 76 L215.3 76.8 L214.4 77.7 L213.6 78.6 L212.8 79.4 L211.9 80.3 L211.1 81.1 L210.3 82 L209.4 82.9 L208.6 83.7 L207.7 84.6 L206.9 85.4 L206.1 86.3 L205.2 87.1 L204.4 88 L203.5 88.8 L202.6 89.6 L201.7 90.4 L200.8 91.2 L199.9 91.9 L198.9 92.7 L198 93.4 L197.1 94.2 L196.1 94.9 L195.2 95.7 L194.3 96.4 L193.4 97.2 L192.5 98 L191.6 98.8 L190.7 99.6 L189.9 100.5 L189 101.3 L188.2 102.2 L187.3 103 L186.5 103.9 L185.7 104.8 L184.8 105.6 L184 106.5 L183.1 107.3 L182.3 108.1 L181.4 108.9 L180.5 109.7 L179.6 110.5 L178.7 111.3 L177.8 112.1 L176.9 112.9 L176 113.6 L175 114.4 L174.1 115.2 L173.2 115.9 L172.3 116.7 L171.3 117.5 L170.4 118.2 L169.5 119 L168.6 119.8 L167.7 120.6 L166.8 121.4 L165.9 122.1 L165 122.9 L164.1 123.7 L163.1 124.5 L162.2 125.3 L161.3 126.1 L160.4 126.8 L159.5 127.6 L158.6 128.4 L157.7 129.2 L156.8 130 L155.9 130.7 L155 131.5 L154 132.3 L153.2 133.1 L152.3 133.9 L151.4 134.7 L150.5 135.6 L149.7 136.4 L148.8 137.2 L147.9 138 L147.1 138.8 L146.2 139.7 L145.3 140.5 L144.5 141.3 L143.6 142.2 L142.8 143 L141.9 143.8 L141.1 144.7 L140.2 145.5 L139.4 146.4 L138.5 147.2 L137.6 148 L136.8 148.9 L135.9 149.7 L135 150.5 L134.1 151.3 L133.2 152 L132.3 152.8 L131.4 153.6 L130.5 154.4 L129.6 155.2 L128.6 155.9 L127.7 156.7 L126.8 157.5 L125.9 158.2 L125 159 L124 159.8 L123.1 160.6 L122.2 161.3 L121.3 162.1 L120.4 162.8 L119.4 163.6 L118.5 164.4 L117.6 165.1 L116.6 165.9 L115.7 166.6 L114.8 167.4 L113.8 168.1 L112.9 168.9 L111.9 169.6 L111 170.3 L110 171.1 L109.1 171.8 L108.1 172.6 L107.1 173.4 L106.2 174 L105.4 174.4 L104.6 174.7 L103.9 174.8 L103.4 175Z" fill="#3d3d3d"/>
<path d="M61.3 199.7 L61.3 199.7 L61.3 199.6 L61.4 199.5 L61.4 199.5 L61.4 199.4 L61.4 199.3 L61.5 199.2 L61.5 199.1 L61.5 199 L61.5 198.9 L61.6 198.9 L61.6 198.7 L61.7 198.6 L61.7 198.5 L61.7 198.4 L61.8 198.3 L61.8 198.2 L61.9 198.1 L62 198 L62 197.9 L62.1 197.8 L62.1 197.7 L62.2 197.6 L62.3 197.5 L62.4 197.4 L62.5 197.3 L62.6 197.2 L62.6 197.1 L62.7 197 L62.8 196.9 L62.9 196.8 L63 196.7 L63.1 196.6 L63.2 196.5 L63.4 196.4 L63.5 196.3 L63.6 196.2 L63.7 196.1 L63.8 196 L64 195.9 L64.1 195.8 L64.2 195.7 L64.4 195.6 L64.5 195.5 L64.7 195.4 L64.9 195.3 L65 195.2 L65.2 195.1 L65.4 195 L65.6 194.9 L65.8 194.8 L66 194.7 L66.2 194.6 L66.4 194.5 L66.6 194.4 L66.9 194.3 L67.1 194.2 L67.3 194.1 L67.6 193.9 L67.8 193.8 L68.1 193.7 L68.3 193.6 L68.6 193.5 L68.8 193.4 L69.1 193.3 L69.3 193.2 L69.5 193.1 L69.8 193 L70 192.9 L70.2 192.8 L70.5 192.7 L70.7 192.6 L70.9 192.5 L71.1 192.4 L71.4 192.3 L71.6 192.2 L71.8 192.1 L72 192 L72.2 191.9 L72.4 191.9 L72.6 191.8 L72.9 191.7 L73.1 191.6 L73.3 191.5 L73.5 191.4 L73.7 191.3 L73.9 191.2 L74.1 191.1 L74.3 191 L74.5 190.9 L74.7 190.8 L74.9 190.7 L75.1 190.6 L75.3 190.5 L75.5 190.4 L75.7 190.3 L75.9 190.2 L76.1 190.1 L76.3 190 L76.4 189.8 L76.6 189.7 L76.8 189.6 L76.9 189.5 L77.1 189.4 L77.3 189.3 L77.4 189.1 L77.6 189 L77.8 188.9 L77.9 188.8 L78.1 188.6 L78.3 188.5 L78.4 188.3 L78.6 188.2 L78.8 188 L79 187.9 L79.2 187.7 L79.4 187.5 L79.6 187.4 L79.8 187.2 L80 187 L80.2 186.8 L80.5 186.6 L80.7 186.4 L81 186.1 L81.2 185.9 L81.5 185.6 L81.8 185.4 L82 185.1 L82.3 184.8 L82.6 184.6 L82.9 184.3 L83.2 184 L83.5 183.8 L83.8 183.5 L84 183.2 L84.3 182.9 L84.6 182.7 L84.9 182.4 L85.1 182.1 L85.4 181.9 L85.6 181.7 L85.9 181.4 L86.1 181.2 L86.3 181 L86.5 180.8 L86.7 180.6 L86.9 180.4 L87.1 180.2 L87.2 180.1 L87.4 179.9 L87.5 179.7 L87.7 179.6 L87.8 179.4 L88 179.3 L88.1 179.1 L88.3 179 L88.4 178.8 L88.5 178.7 L88.7 178.6 L88.8 178.4 L88.9 178.3 L89.1 178.1 L89.2 178 L89.4 177.9 L89.5 177.7 L89.7 177.6 L89.8 177.4 L90 177.3 L90.2 177.2 L90.3 177 L90.5 176.9 L90.7 176.7 L90.9 176.6 L91 176.5 L91.2 176.3 L91.4 176.2 L91.6 176.1 L91.8 175.9 L92 175.8 L92.1 175.7 L92.3 175.6 L92.5 175.4 L92.7 175.3 L92.9 175.2 L93.1 175 L93.3 174.9 L93.5 174.7 L93.7 174.6 L93.9 174.5 L94.1 174.3 L94.3 174.2 L94.5 174 L94.7 173.8 L94.9 173.7 L95.1 173.5 L95.4 173.3 L95.6 173.2 L95.8 173 L96 172.8 L96.2 172.7 L96.5 172.5 L96.7 172.3 L96.9 172.1 L97.2 171.9 L97.4 171.8 L97.6 171.6 L97.9 171.4 L98.1 171.2 L98.3 171 L98.6 170.8 L98.8 170.6 L99 170.5 L99.3 170.3 L99.5 170.1 L99.8 169.9 L100 169.7 L100.2 169.5 L100.5 169.3 L100.7 169.1 L101 168.9 L101.2 168.8 L101.5 168.6 L101.7 168.4 L102 168.2 L102.2 168 L102.5 167.8 L102.7 167.6 L103 167.4 L103.2 167.2 L103.5 167 L103.8 166.8 L104 166.6 L104.3 166.4 L104.5 166.2 L104.8 166 L105 165.8 L105.3 165.6 L105.5 165.4 L105.8 165.2 L106 165 L106.2 164.8 L106.5 164.6 L106.7 164.4 L106.9 164.2 L107.1 164 L107.3 163.8 L107.4 163.6 L107.6 163.4 L107.8 163.3 L108 163.1 L108.2 162.9 L108.4 162.7 L108.6 162.5 L108.8 162.3 L109 162 L109.2 161.8 L109.4 161.6 L109.7 161.3 L110 161.1 L110.2 160.8 L110.6 160.5 L110.9 160.2 L111.2 159.8 L111.6 159.5 L112 159.1 L112.4 158.8 L112.8 158.4 L113.3 158 L113.7 157.6 L114.2 157.2 L114.7 156.8 L115.2 156.4 L115.7 155.9 L116.3 155.5 L116.8 155 L117.3 154.5 L117.9 154 L118.5 153.6 L119.1 153.1 L119.6 152.5 L120.2 152 L120.8 151.5 L121.4 150.9 L122 150.4 L122.6 149.8 L123.3 149.2 L123.9 148.6 L124.5 148 L125.1 147.4 L125.8 146.7 L126.4 146.1 L127 145.4 L127.7 144.7 L128.4 144 L129.1 143.3 L129.7 142.6 L130.4 141.8 L131.1 141.1 L131.8 140.3 L132.5 139.5 L133.2 138.8 L134 138 L134.7 137.2 L135.4 136.4 L136.1 135.6 L136.9 134.8 L137.6 134 L138.3 133.2 L139.1 132.4 L139.8 131.6 L140.6 130.8 L141.3 130 L142 129.2 L142.7 128.5 L143.5 127.7 L144.2 127 L144.8 126.2 L145.5 125.5 L146.2 124.8 L146.9 124 L147.6 123.3 L148.3 122.6 L149 121.8 L149.7 121.1 L150.4 120.3 L151.2 119.5 L151.9 118.7 L152.7 117.9 L153.5 117 L154.4 116.1 L155.3 115.2 L156.2 114.2 L157.1 113.2 L158.1 112.1 L159 111 L160.1 109.9 L161.3 108.8 L162.5 107.6 L163.8 106.4 L165.1 105.2 L166.4 103.8 L167.7 102.4 L169 100.9 L170.4 99.4 L171.7 97.9 L173 96.3 L174.4 94.7 L175.9 93.1 L177.6 91.8 L179.3 90.5 L181.1 89.1 L182.7 87.7 L184.1 86.1 L185.5 84.3 L186.8 82.6 L188.1 80.9 L189.5 79.3 L190.8 77.7 L192.2 76.2 L193.7 74.7 L195.3 73.4 L197 72.1 L198.7 70.9 L200.3 69.5 L201.6 67.8 L202.9 66 L204.1 64.2 L205.5 62.5 L206.9 60.8 L208.4 59.3 L210 57.8 L211.5 56.3 L213.1 54.9 L214.8 53.6 L216.4 52.4 L217.9 51 L219.1 49.3 L220.1 47.6 L221 45.9 L222.1 44.4 L223.5 43.3 L225 42.3 L226.4 41.5 L227.6 40.5 L228.4 39.3 L229 37.9 L229.5 36.6 L230.1 35.6 L230.9 34.7 L231.7 34.1 L232.5 33.5 L233.2 33 L233.9 32.4 L234.6 31.8 L235.2 31.3 L235.8 30.7 L236.2 29.9 L236.5 29.1 L236.8 28.3 L237.2 27.4 L237.6 26.6 L238 25.8 L238.5 25 L239.1 24.2 L239.9 23.5 L240.9 23 L241.9 22.3 L242.8 21.4 L243.6 20.2 L244.3 18.8 L245 17.3 L245.9 15.9 L247 14.6 L248.2 13.3 L249.5 12 L250.8 10.7 L252 9.3 L253.3 7.8 L254.5 6.3 L255.7 4.8 L256.8 3.4 L258 1.9 L259.2 0.5 L260.3 -0.8 L261.3 -2.1 L262.4 -3.4 L263.3 -4.5 L264.2 -5.6 L265.1 -6.6 L265.9 -7.6 L266.5 -8.4 L267 -9" fill="none" stroke="#000" stroke-width="1.05" stroke-linejoin="round"/>
<path d="M66.1 199.7 L66.1 199.7 L66.2 199.6 L66.2 199.6 L66.2 199.5 L66.3 199.5 L66.3 199.4 L66.4 199.4 L66.4 199.3 L66.5 199.3 L66.5 199.2 L66.6 199.1 L66.7 199.1 L66.7 199 L66.8 198.9 L66.8 198.9 L66.9 198.8 L67 198.7 L67.1 198.7 L67.1 198.6 L67.2 198.5 L67.3 198.5 L67.3 198.4 L67.4 198.4 L67.5 198.3 L67.6 198.2 L67.6 198.2 L67.7 198.1 L67.8 198.1 L67.9 198 L67.9 198 L68 197.9 L68.1 197.9 L68.1 197.9 L68.2 197.8 L68.3 197.8 L68.4 197.7 L68.5 197.7 L68.5 197.6 L68.6 197.6 L68.7 197.5 L68.8 197.5 L69 197.4 L69.1 197.3 L69.2 197.3 L69.3 197.2 L69.5 197.1 L69.6 197.1 L69.8 197 L70 196.9 L70.2 196.8 L70.4 196.8 L70.6 196.7 L70.8 196.6 L71 196.5 L71.2 196.4 L71.5 196.4 L71.7 196.3 L72 196.2 L72.2 196.1 L72.5 196 L72.7 195.9 L73 195.8 L73.3 195.7 L73.5 195.6 L73.8 195.5 L74.1 195.4 L74.3 195.2 L74.6 195.1 L74.9 195 L75.2 194.8 L75.4 194.7 L75.7 194.5 L76 194.3 L76.2 194.1 L76.5 194 L76.8 193.8 L77.1 193.6 L77.4 193.3 L77.7 193.1 L78 192.9 L78.3 192.7 L78.6 192.4 L78.9 192.2 L79.2 192 L79.5 191.7 L79.8 191.5 L80.1 191.2 L80.4 191 L80.7 190.7 L80.9 190.5 L81.2 190.2 L81.5 190 L81.8 189.7 L82.1 189.5 L82.3 189.2 L82.6 189 L82.9 188.8 L83.1 188.5 L83.4 188.3 L83.6 188 L83.8 187.8 L84.1 187.6 L84.3 187.3 L84.6 187.1 L84.8 186.8 L85 186.6 L85.2 186.3 L85.5 186.1 L85.7 185.8 L85.9 185.6 L86.1 185.4 L86.4 185.1 L86.6 184.9 L86.8 184.6 L87 184.4 L87.2 184.2 L87.5 184 L87.7 183.7 L87.9 183.5 L88.1 183.3 L88.3 183.1 L88.5 182.9 L88.7 182.7 L88.9 182.5 L89.1 182.3 L89.3 182.1 L89.5 181.9 L89.7 181.7 L89.9 181.5 L90.1 181.4 L90.3 181.2 L90.5 181 L90.7 180.8 L90.9 180.6 L91.1 180.5 L91.3 180.3 L91.5 180.1 L91.7 179.9 L91.9 179.7 L92.1 179.6 L92.3 179.4 L92.5 179.2 L92.8 179 L93 178.8 L93.2 178.6 L93.5 178.4 L93.7 178.2 L94 178.1 L94.2 177.9 L94.4 177.7 L94.7 177.5 L94.9 177.4 L95.2 177.2 L95.4 177 L95.7 176.9 L95.9 176.7 L96.2 176.5 L96.5 176.3 L96.7 176.1 L97 175.9 L97.3 175.7 L97.6 175.5 L97.9 175.3 L98.2 175 L98.5 174.8 L98.8 174.6 L99.2 174.3 L99.5 174 L99.9 173.7 L100.2 173.4 L100.6 173 L101 172.7 L101.4 172.3 L101.9 171.9 L102.3 171.5 L102.8 171.1 L103.2 170.7 L103.7 170.3 L104.1 169.9 L104.6 169.5 L105.1 169.1 L105.5 168.6 L106 168.2 L106.4 167.8 L106.8 167.4 L107.3 167 L107.7 166.7 L108.1 166.3 L108.5 165.9 L108.8 165.6 L109.2 165.3 L109.5 165 L109.8 164.7 L110.1 164.5 L110.3 164.3 L110.5 164.1 L110.7 163.9 L110.9 163.7 L111.1 163.6 L111.2 163.5 L111.4 163.3 L111.5 163.2 L111.6 163.1 L111.8 163 L111.9 162.8 L112 162.7 L112.2 162.6 L112.4 162.4 L112.5 162.3 L112.7 162.1 L113 161.9 L113.2 161.7 L113.5 161.4 L113.8 161.1 L114.1 160.8 L114.5 160.5 L114.9 160.1 L115.3 159.8 L115.8 159.4 L116.3 158.9 L116.8 158.5 L117.3 158.1 L117.8 157.6 L118.4 157.1 L119 156.6 L119.5 156.1 L120.1 155.6 L120.8 155.1 L121.4 154.6 L122 154 L122.6 153.4 L123.3 152.9 L123.9 152.3 L124.6 151.7 L125.2 151.1 L125.9 150.5 L126.5 149.9 L127.1 149.3 L127.8 148.6 L128.4 148 L129 147.4 L129.7 146.7 L130.3 146 L130.9 145.3 L131.6 144.6 L132.2 143.9 L132.8 143.2 L133.5 142.5 L134.1 141.7 L134.8 141 L135.4 140.2 L136.1 139.5 L136.8 138.7 L137.4 137.9 L138.1 137.1 L138.8 136.4 L139.5 135.6 L140.2 134.8 L140.9 134 L141.6 133.2 L142.3 132.4 L143 131.6 L143.8 130.8 L144.5 130 L145.2 129.2 L145.9 128.5 L146.7 127.7 L147.4 127 L148.1 126.2 L148.8 125.5 L149.5 124.8 L150.2 124 L150.9 123.3 L151.6 122.6 L152.4 121.8 L153.1 121.1 L153.9 120.3 L154.7 119.5 L155.5 118.7 L156.3 117.9 L157.1 117 L158 116.1 L158.9 115.2 L159.9 114.2 L160.8 113.2 L161.8 112.2 L162.9 111.1 L164 110 L165.2 108.8 L166.3 107.6 L167.6 106.3 L168.9 105 L170.2 103.7 L171.5 102.3 L172.9 100.9 L174.3 99.4 L175.8 98 L177.2 96.5 L178.7 94.9 L180.2 93.4 L181.7 91.9 L183.3 90.4 L184.9 88.8 L186.4 87.3 L187.9 85.7 L189.3 84.1 L190.8 82.5 L192.3 80.9 L193.8 79.4 L195.4 78 L196.9 76.6 L198.4 75.1 L199.9 73.6 L201.3 72 L202.6 70.4 L204.1 68.8 L205.7 67.3 L207.3 65.9 L209 64.4 L210.6 62.9 L212.1 61.3 L213.6 59.6 L215.1 58 L216.6 56.4 L218.2 54.9 L219.7 53.5 L221.3 52 L222.8 50.6 L224.1 49.1 L225.4 47.6 L226.7 46.1 L227.9 44.7 L229.2 43.5 L230.6 42.4 L231.8 41.3 L232.9 40.2 L233.9 39.1 L234.7 38 L235.4 36.9 L236.1 35.9 L236.7 35 L237.4 34.2 L238 33.4 L238.5 32.7 L239.1 32 L239.7 31.4 L240.3 30.8 L240.8 30.2 L241.4 29.6 L241.9 29.1 L242.4 28.5 L242.9 27.8 L243.4 27.1 L243.9 26.4 L244.4 25.6 L244.9 24.7 L245.4 23.8 L246 22.8 L246.6 21.8 L247.4 20.8 L248.3 19.7 L249.3 18.7 L250.4 17.6 L251.5 16.4 L252.6 15.1 L253.7 13.6 L254.8 12.2 L255.9 10.7 L257.1 9.2 L258.3 7.8 L259.5 6.3 L260.7 4.8 L261.9 3.4 L263.1 1.9 L264.2 0.5 L265.3 -0.8 L266.4 -2.1 L267.4 -3.4 L268.4 -4.5 L269.2 -5.6 L270.1 -6.6 L270.9 -7.6 L271.5 -8.4 L272 -9" fill="none" stroke="#000" stroke-width="1.05" stroke-linejoin="round"/>
<path d="M83 190.7 L83.3 190.3 L83.7 189.8 L84.2 189.1 L85 188.3 L86 187.3 L87.2 186.1 L88.6 184.9 L90 183.7 L91.4 182.6 L92.9 181.5 L94.4 180.5 L96 179.3 L97.6 178.1 L99.2 176.9 L101 175.6 L103 174 L105.4 172 L108 169.8 L110.8 167.4 L113.5 165 L116.2 162.5 L118.9 159.9 L121.5 157.3 L124 155 L126.1 153.2 L128 151.7 L130 150 L132.6 147.5 L135.7 143.9 L139.3 139.5 L143.2 134.8 L147.6 130 L152.2 125.5 L157 121.1 L162.5 116.1 L169 110 L176.8 102.3 L185.7 93.4 L195 84.1 L204 75 L213.1 65.9 L222.4 56.5 L231.1 47.6 L238.3 40 L243.2 34.4 L246.4 30.2 L249.3 26.1 L253.3 21 L259.4 13.6 L266.6 4.8 L273.3 -3.4 L278 -9" fill="none" stroke="#000" stroke-width="1.05" stroke-linejoin="round"/>
<path d="M83 190.7 L83.5 190.6 L84.2 190.4 L85.1 190.2 L86 189.8 L86.8 189.3 L87.6 188.8 L88.6 188 L90 187 L92.1 185.6 L94.6 183.9 L97.4 182.1 L100 180.3 L102.6 178.5 L105.2 176.7 L107.8 174.9 L110 173.3 L111.7 172.1 L113 171.2 L114.3 170.2 L116 169 L118.2 167.4 L120.7 165.5 L123.3 163.7 L125.5 162 L127.1 160.9 L128.2 160 L129.6 158.9 L132 157 L135.8 153.8 L140.5 149.7 L145.4 145.4 L150 141.5 L154.1 138.1 L158.1 135 L161.8 132 L165.2 129.3 L168.3 126.8 L171 124.6 L173.5 122.5 L176 120.5 L178.5 118.6 L180.9 116.9 L183.1 115.2 L185 113.8 L186.5 112.6 L187.8 111.6 L188.8 110.7 L190 109.6 L191.2 108.3 L192.5 106.9 L193.8 105.5 L195 104.2 L196.2 103 L197.5 101.8 L198.8 100.6 L200 99.6 L201.2 98.7 L202.5 97.8 L203.8 97 L205 96.2 L206.2 95.4 L207.4 94.7 L208.7 93.8 L210 92.8 L211.4 91.5 L212.8 90.1 L214.3 88.5 L216 86.8 L217.7 85 L219.4 83 L221.4 80.9 L224 78.3 L227.5 75.1 L231.8 71.3 L236.1 67.6 L240 64.3 L243.2 61.7 L246.1 59.6 L249 57.6 L252 55.3 L255.4 52.7 L259.1 50 L262.7 47.2 L266 44.3 L269 41.3 L271.8 38.1 L274.3 35 L276.5 32.5 L278.2 30.7 L279.6 29.4 L280.7 28.3 L281.6 27 L282.2 26.1 L282.4 25.5 L282.5 24.2 L282.7 21 L283 14.5 L283.4 5.6 L283.8 -3 L284 -9" fill="none" stroke="#000" stroke-width="1.05" stroke-linejoin="round"/>
<path d="M66.1 199.7 L66.8 199.8 L67.7 200.1 L68.8 200.3 L69.8 200.3 L70.8 200.2 L71.8 200 L72.8 199.7 L74 199.2 L75.3 198.6 L76.6 197.8 L78.2 196.9 L80 195.8 L82.2 194.6 L84.8 193.1 L87.4 191.7 L90 190.2 L92.5 188.8 L95 187.4 L97.5 185.9 L100 184.5 L102.6 183 L105.2 181.5 L107.8 180 L110 178.7 L111.7 177.7 L113.1 177 L114.5 176.3 L116 175.3 L117.8 174 L119.8 172.5 L121.9 170.9 L124 169.3 L125.9 167.8 L127.8 166.4 L130 164.7 L133.2 162.3 L137.6 159 L142.9 155 L148.7 150.6 L154.6 146.4 L160.8 142.1 L167.5 137.7 L173.9 133.5 L179.2 129.8 L183 126.9 L185.9 124.5 L188.3 122.3 L190.7 120 L192.7 117.9 L194.3 115.9 L196.4 113.7 L200 110.6 L206 106.2 L213.5 101 L221.5 95.5 L228.8 90.4 L235 85.7 L240.9 81.2 L246.5 77 L251.9 73.1 L257.3 69.7 L262.6 66.7 L267.5 63.8 L272 61 L275.8 58.1 L279.2 55.4 L282.2 52.7 L285 50 L287 47.9 L288.4 46.3 L290.4 44 L294 40 L300.7 32.8 L309.6 23.4 L318.1 14.3 L324 8" fill="none" stroke="#000" stroke-width="1.05" stroke-linejoin="round"/>
<path d="M66.1 199.7 L66.7 199.9 L67.6 200.2 L68.6 200.4 L69.8 200.5 L71.2 200.4 L72.8 200.2 L74.4 200 L76 199.6 L77.5 199.2 L78.9 198.6 L80.4 198 L82 197.3 L83.8 196.5 L85.8 195.6 L87.8 194.6 L90 193.6 L92.4 192.4 L94.9 191.2 L97.5 189.9 L100 188.6 L102.6 187.3 L105.2 186.1 L107.8 184.9 L110 183.8 L111.8 183 L113.2 182.3 L114.5 181.7 L116 180.9 L117.7 179.9 L119.4 178.8 L121.2 177.7 L123 176.5 L124.7 175.5 L126.4 174.5 L128.3 173.3 L130.7 171.8 L133.8 169.8 L137.5 167.3 L141.5 164.8 L145.5 162.3 L149.7 160 L154.1 157.6 L158.5 155.3 L162.8 153 L167 150.7 L171.1 148.5 L175.1 146.2 L179.2 143.8 L183.3 141.2 L187.5 138.5 L191.6 135.9 L195.6 133.4 L199.5 131.2 L203.4 129.2 L206.9 127.3 L210 125.4 L212 123.7 L213.3 122.1 L214.7 120.3 L217.3 117.8 L221.4 114.3 L226.6 110.1 L232.2 105.8 L237.5 102 L242.6 98.9 L247.7 96.2 L252.8 93.5 L257.6 90.4 L262.1 86.8 L266.3 82.9 L270.5 78.8 L274.9 74.6 L279.3 70.4 L283.7 66.2 L288.4 61.5 L294 56 L301.4 48.6 L310.2 39.8 L318.4 31.7 L324 26" fill="none" stroke="#000" stroke-width="1.05" stroke-linejoin="round"/>
<path d="M66.1 199.7 L66.6 199.9 L67.4 200.3 L68.4 200.6 L69.8 200.7 L71.7 200.6 L74 200.4 L76.5 200.1 L78.9 199.7 L81.2 199.1 L83.5 198.5 L85.8 197.7 L88.1 197 L90.4 196.3 L92.7 195.6 L95 194.9 L97.3 194.2 L99.6 193.4 L102 192.5 L104.2 191.7 L106 191 L107.3 190.5 L108.2 190.1 L109 189.7 L110 189.2 L111.2 188.7 L112.5 188.2 L114 187.6 L116 186.7 L118.9 185.4 L122.4 183.8 L125.9 182.2 L128.8 181 L130.6 180.4 L131.9 180.1 L133 179.9 L134.7 179.2 L137.1 177.9 L139.8 176.3 L142.7 174.5 L145.5 173 L148 171.8 L150.3 170.9 L152.8 169.9 L156 168.6 L160 167 L164.5 165.2 L169.3 163.2 L174.3 161 L179.6 158.4 L185.2 155.5 L190.7 152.5 L195.7 149.7 L200.1 147.3 L204.1 145.1 L207.8 142.9 L211.5 140.5 L215.3 137.8 L218.9 135 L222.4 132.1 L225.6 129.4 L228.2 127 L230.3 124.9 L232.4 122.6 L235 120 L238 117.1 L241.2 114 L244.8 110.5 L249 106.3 L254.1 101.2 L260 95.3 L266.1 89.2 L272 83.2 L277.4 77.6 L282.6 72 L288 66.3 L294 60 L301.6 52.3 L310.4 43.5 L318.4 35.5 L324 30" fill="none" stroke="#000" stroke-width="1.05" stroke-linejoin="round"/>
<path d="M61.3 199.7 L61.4 200.4 L61.6 201.5 L61.8 202.7 L62.2 203.6 L62.6 204.3 L63.1 204.9 L63.8 205.4 L65 205.6 L66.9 205.6 L69.3 205.3 L71.8 205 L74.3 204.6 L76.6 204.2 L78.9 203.7 L81.2 203.1 L83.5 202.6 L85.7 202.1 L87.8 201.5 L90.1 201 L92.7 200.3 L95.9 199.5 L99.4 198.6 L102.9 197.7 L106 196.9 L108.5 196.1 L110.6 195.4 L112.5 194.7 L114.3 194.1 L115.7 193.6 L116.7 193.2 L117.9 192.7 L120 192 L123.4 190.8 L127.6 189.3 L132 187.8 L135.7 186.5 L138.5 185.5 L140.9 184.7 L143.1 184 L145.5 183.2 L148 182.4 L150.5 181.6 L153.1 180.8 L156 179.8 L159.3 178.6 L162.8 177.3 L166.4 175.9 L170 174.5 L173.7 173.1 L177.4 171.7 L181 170.3 L184 169.2 L186.2 168.4 L187.9 167.8 L189.4 167.2 L191 166.5 L192.6 165.8 L194.2 165.1 L195.9 164.1 L198 162.5 L200.7 160.2 L203.8 157.3 L207 154.1 L210 151 L212.8 148 L215.5 144.9 L218.2 141.9 L220.9 138.9 L223.7 136 L226.5 133.1 L229.3 130.4 L231.9 127.9 L234 125.9 L235.9 124.3 L237.9 122.5 L240.6 120 L244.3 116.4 L248.6 112.1 L253.1 107.5 L257.6 103 L261.9 98.7 L266.2 94.5 L270.5 90.1 L275 85.5 L279.4 80.7 L283.7 75.8 L288.4 70.5 L294 64.5 L301.4 56.9 L310.2 48.2 L318.4 40.1 L324 34.5" fill="none" stroke="#000" stroke-width="1.05" stroke-linejoin="round"/>
<text x="184.5" y="117.2" font-size="7.5" text-anchor="middle" transform="rotate(-42 184.5 114.5)" stroke="#5e5e5e" stroke-width="2" stroke-linejoin="round" paint-order="stroke" fill="#111">10</text>
<text x="184.3" y="129.3" font-size="7.5" text-anchor="middle" transform="rotate(-38 184.3 126.6)" stroke="#858585" stroke-width="2" stroke-linejoin="round" paint-order="stroke" fill="#111">20</text>
<text x="182.6" y="144.6" font-size="7.5" text-anchor="middle" transform="rotate(-32 182.6 141.9)" stroke="#ababab" stroke-width="2" stroke-linejoin="round" paint-order="stroke" fill="#111">30</text>
<text x="177.3" y="161.7" font-size="7.5" text-anchor="middle" transform="rotate(-25 177.3 159)" stroke="#d2d2d2" stroke-width="2" stroke-linejoin="round" paint-order="stroke" fill="#111">40</text>
<text x="181" y="174.2" font-size="7.5" text-anchor="middle" transform="rotate(-20 181 171.5)" stroke="#f6f6f6" stroke-width="2" stroke-linejoin="round" paint-order="stroke" fill="#111">50</text>
</g>
<g clip-path="url(#cr)">
<path d="M335.3 171.2 L352 156 L370 140.7 L391.3 124.5 L417.2 107.6 L437.7 93 L454.6 80.3 L466.9 71.7 L491.4 50.8 L508 37 L512.5 33 L514.8 32.2 L514.6 35 L513.5 37.5 L503 53 L491.4 69.2 L476 91 L469.3 100 L462 106.5 L457 111.5 L453.6 117.7 L447.7 128 L443.5 138.3 L441.7 147.2 L438.7 154.6 L434.2 159.2 L425.4 163.6 L419.5 166.6 L407.7 175.4 L395.9 185.3 L389 187.3 L381.4 187.9 L353.6 181.5 L342 175.5Z" fill="#eeeeee"/>
<path d="M335.3 171.2 L340.7 166.6 L346 162 L351.4 157.5 L356.9 153 L362.4 148.7 L368.1 144.5 L373.8 140.4 L379.6 136.3 L385.4 132.3 L391.3 128.5 L397.3 124.7 L403.2 121 L409.2 117.1 L415 113.2 L420.9 109.2 L426.7 105.3 L432.5 101.3 L438.3 97.2 L444.1 93.2 L449.9 89.1 L455.5 85 L461.2 80.8 L466.9 76.7 L472.5 72.5 L478.1 68.2 L483.8 64 L489.4 59.7 L492.7 59.3 L489.6 65.6 L486.2 71.7 L482.7 77.7 L478.4 83.3 L474.3 89 L470.8 95.1 L466.9 101 L462.9 106.8 L458.9 112.6 L455.1 118.5 L450.9 123.9 L446.6 129.4 L443 135.5 L439.4 141.6 L435.4 147.1 L431.8 152.7 L428.2 158.2 L423.7 163.3 L417.9 167.2 L412 171 L406.2 175 L400.7 179.3 L394.5 182.1 L388.4 184.9 L381.7 186.1 L374.7 185.6 L367.9 184 L361 182.3 L354.2 180.5 L347.7 178 L341.3 174.9 L335.3 171.2Z" fill="#dbdbdb"/>
<path d="M335.3 171.2 L356 155 L374.7 143 L392 132.5 L401.5 126.5 L422 113.9 L436 104.4 L452 95 L462 88.5 L471.8 82 L469.5 87.5 L466.9 92.6 L464.4 100 L459 106 L455.8 110.7 L453.5 117 L444 131.2 L439.3 142.2 L430 157 L421 163.5 L406 173 L392 184.5 L377 185.5 L354 179.8 L342 175Z" fill="#c8c8c8"/>
<path d="M335.3 171.2 L339.4 168.7 L343.5 166.2 L347.5 163.7 L351.6 161.2 L355.8 158.7 L359.9 156.4 L364.1 154 L368.3 151.7 L372.6 149.4 L376.8 147.2 L381 144.9 L385.3 142.6 L389.4 140.2 L393.6 137.9 L397.8 135.5 L401.9 133 L406 130.5 L410.2 128.2 L414.4 125.8 L418.6 123.5 L422.8 121.2 L427.1 119.1 L431.5 117.1 L435.8 115.1 L440.2 113.2 L444.6 111.3 L448.9 109.3 L450.1 110.4 L447.8 114.6 L445.6 118.8 L443.3 123 L440.5 126.9 L437.9 130.9 L435.6 135.2 L433.1 139.2 L430.4 143.3 L427.8 147.3 L425.4 151.4 L422.7 155.3 L419.6 158.9 L416.4 162.4 L413.2 166 L409.6 169.2 L406.1 172.4 L402.5 175.6 L398.9 178.7 L394.5 180.1 L390.1 181.3 L385.7 182.5 L381.2 183.8 L376.5 183.2 L371.8 182.6 L367.1 181.8 L362.4 180.7 L357.7 179.6 L353.1 178.3 L348.5 176.9 L344 175.3 L339.6 173.4 L335.3 171.2Z" fill="#b5b5b5"/>
<path d="M335.3 171.2 L360 158 L380 148 L390.4 142.5 L401.5 136 L417.2 128 L430 123 L443.2 118.6 L437 129 L428.3 143 L418 159 L405 171 L394 182.5 L377 183.5 L355 178.5 L342 174.5Z" fill="#a1a1a1"/>
<path d="M335.3 171.2 L338.9 169.6 L342.5 168 L346.1 166.3 L349.7 164.7 L353.3 163.1 L356.9 161.5 L360.5 159.9 L364.1 158.3 L367.7 156.7 L371.3 155.2 L374.9 153.6 L378.6 152 L382.1 150.3 L385.7 148.6 L389.2 146.8 L392.8 145.1 L396.3 143.4 L399.9 141.8 L403.5 140.2 L407.1 138.6 L410.7 137 L414.4 135.5 L418.1 134.1 L421.8 132.6 L425.5 131.3 L429.2 130 L432.9 128.6 L434 129.4 L432 132.8 L429.9 136.2 L427.8 139.6 L425.7 142.9 L423.5 146.2 L421.4 149.5 L419.2 152.8 L416.9 156.1 L414.6 159.2 L412.3 162.4 L409.7 165.4 L406.9 168.2 L404.2 171 L401.3 173.8 L398.4 176.5 L395.5 179 L392.2 180.5 L389 181.9 L385.1 182 L381.2 182 L377.2 182 L373.3 181.7 L369.5 180.9 L365.6 180 L361.8 179.1 L357.9 178.2 L354.1 177.3 L350.2 176.2 L346.4 175.2 L342.6 174.1 L338.9 172.7 L335.3 171.2Z" fill="#8d8d8d"/>
<path d="M335.3 171.2 L360 162.5 L375 157 L386 152.5 L400 147.5 L413 142.5 L426.7 137.2 L420 148 L411 161 L403.3 170 L397 177.3 L391 182.3 L372.6 180.7 L354 176.3 L342 173.3Z" fill="#797979"/>
<path d="M335.9 171.2 L338.9 170.4 L342 169.5 L345 168.6 L348 167.7 L351 166.8 L354.1 165.9 L357.1 165 L360.1 164.1 L363.1 163.2 L366.2 162.3 L369.2 161.4 L372.2 160.4 L375.1 159.3 L378.1 158.2 L381.1 157.2 L384.1 156.3 L387.2 155.5 L390.2 154.7 L393.2 153.8 L396.3 153 L399.3 152.1 L402.3 151 L405.2 150 L408.2 148.9 L411.2 147.9 L414.2 146.9 L417.2 145.9 L418.9 145.9 L417.2 148.6 L415.5 151.3 L413.8 153.9 L412 156.5 L410.2 159.1 L408.4 161.7 L406.6 164.3 L404.6 166.7 L402.5 169.1 L400.4 171.5 L398.2 173.7 L396 176 L393.6 177.6 L391 178.8 L388.3 179.8 L385.5 180.6 L382.3 180.3 L379.2 180 L376 179.7 L372.9 179.3 L369.8 178.9 L366.7 178.2 L363.6 177.5 L360.5 176.8 L357.4 176.2 L354.3 175.5 L351.3 174.9 L348.2 174.2 L345.1 173.6 L342 172.9 L338.9 172.1 L335.9 171.2Z" fill="#656565"/>
<path d="M336.5 171.2 L340 170.6 L355 167.2 L369 164 L375.7 161.8 L384 160.3 L393 158.7 L402 156 L412 153.1 L408 159.5 L404 165 L400 170.5 L395 176 L390 180 L372.6 178.2 L353.8 174.4 L341 172.4Z" fill="#515151"/>
<path d="M340 171.7 L360 171.3 L385 171.4 L399.3 171.5 L395 176 L390 180 L372.6 178.2 L353.8 174.4Z" fill="#3d3d3d"/>
<path d="M335.3 171.2 L352 156 L370 140.7 L391.3 124.5 L417.2 107.6 L437.7 93 L454.6 80.3 L466.9 71.7 L491.4 50.8 L508 37 L512.5 33 L514.8 32.2 L514.6 35 L513.5 37.5 L503 53 L491.4 69.2 L476 91 L469.3 100 L462 106.5 L457 111.5 L453.6 117.7 L447.7 128 L443.5 138.3 L441.7 147.2 L438.7 154.6 L434.2 159.2 L425.4 163.6 L419.5 166.6 L407.7 175.4 L395.9 185.3 L389 187.3 L381.4 187.9 L353.6 181.5 L342 175.5Z" fill="none" stroke="#000" stroke-width="0.95" stroke-linejoin="round"/>
<path d="M335.3 171.2 L356 155 L374.7 143 L392 132.5 L401.5 126.5 L422 113.9 L436 104.4 L452 95 L462 88.5 L471.8 82 L469.5 87.5 L466.9 92.6 L464.4 100 L459 106 L455.8 110.7 L453.5 117 L444 131.2 L439.3 142.2 L430 157 L421 163.5 L406 173 L392 184.5 L377 185.5 L354 179.8 L342 175Z" fill="none" stroke="#000" stroke-width="0.95" stroke-linejoin="round"/>
<path d="M335.3 171.2 L360 158 L380 148 L390.4 142.5 L401.5 136 L417.2 128 L430 123 L443.2 118.6 L437 129 L428.3 143 L418 159 L405 171 L394 182.5 L377 183.5 L355 178.5 L342 174.5Z" fill="none" stroke="#000" stroke-width="0.95" stroke-linejoin="round"/>
<path d="M335.3 171.2 L360 162.5 L375 157 L386 152.5 L400 147.5 L413 142.5 L426.7 137.2 L420 148 L411 161 L403.3 170 L397 177.3 L391 182.3 L372.6 180.7 L354 176.3 L342 173.3Z" fill="none" stroke="#000" stroke-width="0.95" stroke-linejoin="round"/>
<path d="M336.5 171.2 L340 170.6 L355 167.2 L369 164 L375.7 161.8 L384 160.3 L393 158.7 L402 156 L412 153.1 L408 159.5 L404 165 L400 170.5 L395 176 L390 180 L372.6 178.2 L353.8 174.4 L341 172.4Z" fill="none" stroke="#000" stroke-width="0.95" stroke-linejoin="round"/>
<text x="391.3" y="129.2" font-size="7.5" text-anchor="middle" transform="rotate(-33 391.3 126.5)" stroke="#f6f6f6" stroke-width="2" stroke-linejoin="round" paint-order="stroke" fill="#111">50</text>
<text x="391.5" y="138.3" font-size="7.5" text-anchor="middle" transform="rotate(-30 391.5 135.6)" stroke="#d2d2d2" stroke-width="2" stroke-linejoin="round" paint-order="stroke" fill="#111">40</text>
<text x="390.4" y="146.4" font-size="7.5" text-anchor="middle" transform="rotate(-26 390.4 143.7)" stroke="#ababab" stroke-width="2" stroke-linejoin="round" paint-order="stroke" fill="#111">30</text>
<text x="386.4" y="155.8" font-size="7.5" text-anchor="middle" transform="rotate(-18 386.4 153.1)" stroke="#858585" stroke-width="2" stroke-linejoin="round" paint-order="stroke" fill="#111">20</text>
<text x="384" y="164.5" font-size="7.5" text-anchor="middle" transform="rotate(-10 384 161.8)" stroke="#5e5e5e" stroke-width="2" stroke-linejoin="round" paint-order="stroke" fill="#111">10</text>
</g>
<g>
<rect x="54.5" y="21" width="239.5" height="234.5" fill="none" stroke="#000" stroke-width="1.7"/>
<rect x="310.3" y="21" width="233" height="234.5" fill="none" stroke="#000" stroke-width="1.6"/>
<path d="M52 47.5 H54.5 M52 73.5 H54.5 M52 99.5 H54.5 M52 125.5 H54.5 M52 151.5 H54.5 M52 177.5 H54.5 M52 203.5 H54.5 M52 229.5 H54.5 M52 255.5 H54.5 M82.8 255.5 V257.4 M132.6 255.5 V257.4 M182 255.5 V257.4 M230.8 255.5 V257.4 M280.3 255.5 V257.4 M317.8 255.5 V257.4 M365.6 255.5 V257.4 M413.3 255.5 V257.4 M461.3 255.5 V257.4 M509.4 255.5 V257.4" stroke="#222" stroke-width="1" fill="none"/>
<path d="M56 18.2 H294 M312 18.2 H543" stroke="#d4d4d4" stroke-width="0.8" stroke-dasharray="1 3.2" fill="none"/>
<path d="M53.6 16 V20.5" stroke="#b8b8b8" stroke-width="1" fill="none"/>
<text x="46.6" y="24.8" font-size="12.3" text-anchor="end">20</text>
<text x="46.6" y="50.7" font-size="12.3" text-anchor="end">18</text>
<text x="46.6" y="76.5" font-size="12.3" text-anchor="end">16</text>
<text x="46.6" y="102.4" font-size="12.3" text-anchor="end">14</text>
<text x="46.6" y="128.3" font-size="12.3" text-anchor="end">12</text>
<text x="46.6" y="154.2" font-size="12.3" text-anchor="end">10</text>
<text x="45.4" y="180" font-size="12.3" text-anchor="end">8</text>
<text x="45.4" y="205.9" font-size="12.3" text-anchor="end">6</text>
<text x="45.4" y="231.8" font-size="12.3" text-anchor="end">4</text>
<text x="45.4" y="257.6" font-size="12.3" text-anchor="end">2</text>
<text x="82.8" y="272.2" font-size="12.3" text-anchor="middle">14</text>
<text x="133.2" y="272.2" font-size="12.3" text-anchor="middle">16</text>
<text x="182.3" y="272.2" font-size="12.3" text-anchor="middle">18</text>
<text x="230.8" y="272.2" font-size="12.3" text-anchor="middle">20</text>
<text x="280.3" y="272.2" font-size="12.3" text-anchor="middle">22</text>
<text x="317.8" y="272.2" font-size="12.3" text-anchor="middle">20</text>
<text x="365.6" y="272.2" font-size="12.3" text-anchor="middle">22</text>
<text x="413.3" y="272.2" font-size="12.3" text-anchor="middle">24</text>
<text x="461.3" y="272.2" font-size="12.3" text-anchor="middle">26</text>
<text x="509.4" y="272.2" font-size="12.3" text-anchor="middle">28</text>
<text transform="translate(14.7 154.2) rotate(-90)" font-size="13.6" textLength="69.4" lengthAdjust="spacingAndGlyphs">UCS (MPa)</text>
<text x="122.8" y="297.2" font-size="15.3">S</text><text x="133.3" y="302.9" font-size="8.9" textLength="24" lengthAdjust="spacingAndGlyphs">Hmax</text><text x="160.6" y="297.2" font-size="15.4" textLength="41.6" lengthAdjust="spacingAndGlyphs">(MPa)</text>
<text x="379.4" y="297.2" font-size="15.3">S</text><text x="389.9" y="302.9" font-size="8.9" textLength="24" lengthAdjust="spacingAndGlyphs">Hmax</text><text x="417.2" y="297.2" font-size="15.4" textLength="41.6" lengthAdjust="spacingAndGlyphs">(MPa)</text>
<text transform="translate(620.6 94.6) rotate(90)" font-size="15.9" textLength="85" lengthAdjust="spacingAndGlyphs">Residual (°)</text>
<text x="59.6" y="46.2" font-size="20.5" font-weight="bold">a</text>
<text x="316.9" y="46" font-size="20.5" font-weight="bold">b</text>
<text x="208.7" y="249.2" font-size="16.9" textLength="72.4" lengthAdjust="spacingAndGlyphs">900 mbsf</text>
<text x="457.1" y="249.2" font-size="16.9" textLength="78.8" lengthAdjust="spacingAndGlyphs">1150 mbsf</text>
</g>
<g>
<rect x="573.4" y="10" width="13.5" height="245.5" fill="#eeeeee"/>
<rect x="573.4" y="34.5" width="13.5" height="221" fill="#dbdbdb"/>
<rect x="573.4" y="59" width="13.5" height="196.5" fill="#c8c8c8"/>
<rect x="573.4" y="83.5" width="13.5" height="172" fill="#b5b5b5"/>
<rect x="573.4" y="108" width="13.5" height="147.5" fill="#a1a1a1"/>
<rect x="573.4" y="132.5" width="13.5" height="123" fill="#8d8d8d"/>
<rect x="573.4" y="157" width="13.5" height="98.5" fill="#797979"/>
<rect x="573.4" y="181.5" width="13.5" height="74" fill="#656565"/>
<rect x="573.4" y="206" width="13.5" height="49.5" fill="#515151"/>
<rect x="573.4" y="230.5" width="13.5" height="25" fill="#3d3d3d"/>
<rect x="573.4" y="10" width="13.5" height="245.3" fill="none" stroke="#000" stroke-width="1.3"/>
<text x="597.2" y="259.3" font-size="12.3">0</text>
<text x="596.2" y="210.3" font-size="12.3">10</text>
<text x="596.2" y="161.3" font-size="12.3">20</text>
<text x="596.2" y="112.3" font-size="12.3">30</text>
<text x="596.2" y="63.3" font-size="12.3">40</text>
<text x="596.2" y="14.3" font-size="12.3">50</text>
</g>
</svg>
</body>
</html>
